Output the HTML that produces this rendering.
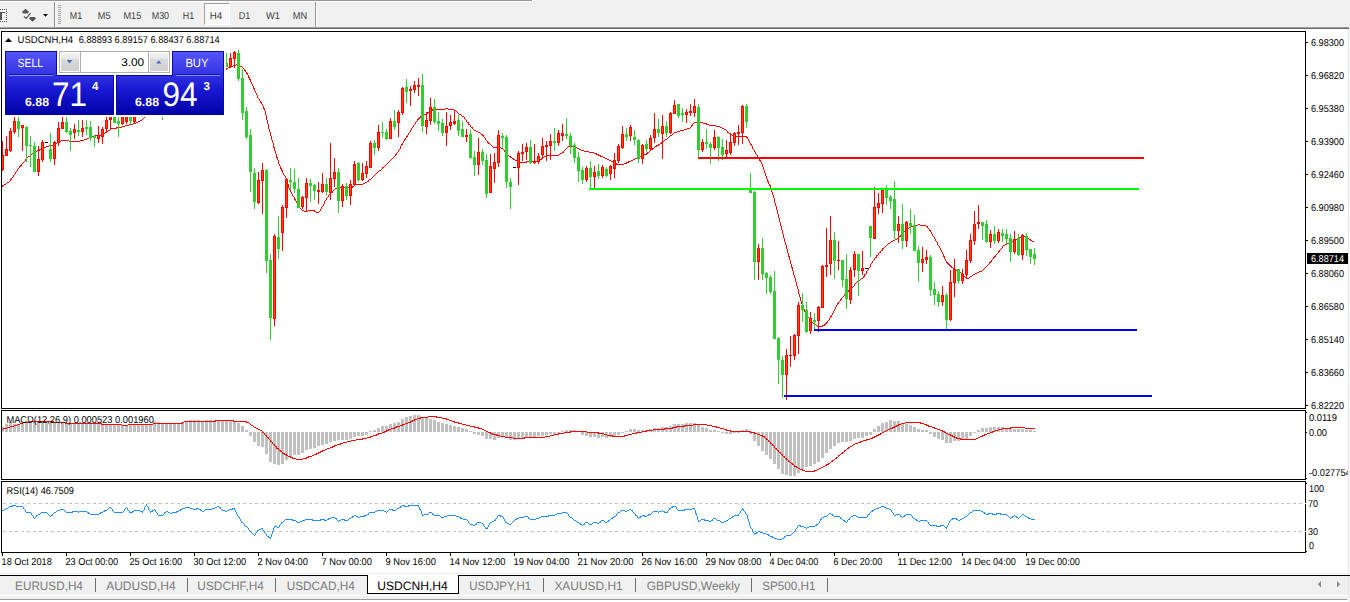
<!DOCTYPE html>
<html><head><meta charset="utf-8"><title>USDCNH,H4</title>
<style>
html,body{margin:0;padding:0}
body{width:1350px;height:602px;position:relative;overflow:hidden;background:#fff;font-family:"Liberation Sans",sans-serif;}
.abs{position:absolute}
#toolbar{left:0;top:0;width:1350px;height:29px;background:#f0f0f0}
#tabs{left:0;top:576px;width:1350px;height:20px;background:#f0f0f0}
#tabs .sep{position:absolute;top:2px;width:1px;height:14px;background:#6e6e6e}
svg text{font-family:"Liberation Sans",sans-serif;text-rendering:geometricPrecision}
</style></head><body>

<div id="toolbar" class="abs">
<div class="abs" style="left:0;top:0;width:532px;height:1px;background:#969696"></div>
<div class="abs" style="left:0;top:1px;width:533px;height:1px;background:#fff"></div><div class="abs" style="left:532px;top:0;width:1px;height:1px;background:#fff"></div>
<div class="abs" style="left:0;top:27px;width:1349px;height:1px;background:#a0a0a0"></div>
<div class="abs" style="left:0;top:28px;width:1349px;height:1px;background:#696969"></div>
<svg class="abs" style="left:0;top:0" width="64" height="27" shape-rendering="crispEdges">
<rect x="0" y="12" width="5" height="1" fill="#555"/><rect x="0" y="12" width="2" height="8" fill="#555"/>
<rect x="0" y="9" width="1" height="1" fill="#555"/><rect x="0" y="21" width="1" height="1" fill="#555"/>
<rect x="2" y="9" width="1" height="1" fill="#555"/><rect x="2" y="21" width="1" height="1" fill="#555"/>
<rect x="4" y="9" width="1" height="1" fill="#555"/><rect x="4" y="21" width="1" height="1" fill="#555"/>
<rect x="6" y="9" width="1" height="1" fill="#555"/><rect x="6" y="21" width="1" height="1" fill="#555"/>
<rect x="6" y="9" width="1" height="1" fill="#555"/>
<rect x="6" y="11" width="1" height="1" fill="#555"/>
<rect x="6" y="13" width="1" height="1" fill="#555"/>
<rect x="6" y="15" width="1" height="1" fill="#555"/>
<rect x="6" y="17" width="1" height="1" fill="#555"/>
<rect x="6" y="19" width="1" height="1" fill="#555"/>
<rect x="6" y="21" width="1" height="1" fill="#555"/>
<g shape-rendering="auto" fill="#555"><path d="M25.5 8.8 L29.2 12 L27.5 13.5 L23.5 13.5 L21.8 12 Z"/><path d="M32.5 21.8 L36.2 18.2 L34.5 17 L30.5 17 L28.8 18.2 Z"/><path d="M24 16.5 L26.2 18.4 L30.6 13.2" fill="none" stroke="#555" stroke-width="1.2"/></g>
<path d="M43 14 H48 L45.5 16.8 Z" fill="#000" shape-rendering="auto"/>
<rect x="54" y="2" width="1" height="25" fill="#8c8c8c"/><rect x="55" y="2" width="1" height="25" fill="#fafafa"/>
<rect x="58" y="5" width="3" height="1" fill="#a8a8a8"/>
<rect x="58" y="7" width="3" height="1" fill="#a8a8a8"/>
<rect x="58" y="9" width="3" height="1" fill="#a8a8a8"/>
<rect x="58" y="11" width="3" height="1" fill="#a8a8a8"/>
<rect x="58" y="13" width="3" height="1" fill="#a8a8a8"/>
<rect x="58" y="15" width="3" height="1" fill="#a8a8a8"/>
<rect x="58" y="17" width="3" height="1" fill="#a8a8a8"/>
<rect x="58" y="19" width="3" height="1" fill="#a8a8a8"/>
<rect x="58" y="21" width="3" height="1" fill="#a8a8a8"/>
<rect x="58" y="23" width="3" height="1" fill="#a8a8a8"/>
</svg>
<div class="abs" style="left:204px;top:3px;width:26px;height:22px;background:#f8f8f8;border-left:1px solid #a0a0a0;border-top:1px solid #a0a0a0;border-right:1px solid #fff;border-bottom:1px solid #fff;box-sizing:border-box"></div>
<svg class="abs" style="left:0;top:0" width="330" height="27">
<text x="69.8" y="19" font-size="10" fill="#3a3a3a" textLength="12.4" lengthAdjust="spacingAndGlyphs">M1</text>
<text x="97.8" y="19" font-size="10" fill="#3a3a3a" textLength="12.7" lengthAdjust="spacingAndGlyphs">M5</text>
<text x="123.5" y="19" font-size="10" fill="#3a3a3a" textLength="17.8" lengthAdjust="spacingAndGlyphs">M15</text>
<text x="151.7" y="19" font-size="10" fill="#3a3a3a" textLength="17.4" lengthAdjust="spacingAndGlyphs">M30</text>
<text x="182.8" y="19" font-size="10" fill="#3a3a3a" textLength="11.4" lengthAdjust="spacingAndGlyphs">H1</text>
<text x="209.8" y="19" font-size="10" fill="#3a3a3a" textLength="12.4" lengthAdjust="spacingAndGlyphs">H4</text>
<text x="238.7" y="19" font-size="10" fill="#3a3a3a" textLength="11.5" lengthAdjust="spacingAndGlyphs">D1</text>
<text x="266.1" y="19" font-size="10" fill="#3a3a3a" textLength="13.9" lengthAdjust="spacingAndGlyphs">W1</text>
<text x="292.8" y="19" font-size="10" fill="#3a3a3a" textLength="14.4" lengthAdjust="spacingAndGlyphs">MN</text>
</svg>
<div class="abs" style="left:315px;top:2px;width:1px;height:25px;background:#979797"></div><div class="abs" style="left:316px;top:2px;width:1px;height:25px;background:#fafafa"></div>
<div class="abs" style="left:1349px;top:0;width:1px;height:29px;background:#f0f0f0"></div>
</div>
<svg class="abs" style="left:0;top:29px" width="1350" height="547" viewBox="0 29 1350 547" shape-rendering="crispEdges">
<rect x="0" y="29" width="1350" height="547" fill="#fff"/>
<rect x="1348" y="29" width="1" height="546" fill="#e3e3e3"/><rect x="0" y="573" width="1348" height="1" fill="#ececec"/>
<path fill="#ff0000" d="M2 185h1v2h-1zM3 185h1v1h-1zM4 184h1v1h-1zM5 184h1v1h-1zM6 183h1v1h-1zM7 182h1v1h-1zM8 182h1v1h-1zM9 181h1v1h-1zM10 179h1v2h-1zM11 178h1v2h-1zM12 177h1v1h-1zM13 175h1v2h-1zM14 174h1v1h-1zM15 172h1v2h-1zM16 171h1v1h-1zM17 169h1v2h-1zM18 168h1v1h-1zM19 166h1v2h-1zM20 165h1v2h-1zM21 164h1v2h-1zM22 163h1v1h-1zM23 162h1v1h-1zM24 161h1v1h-1zM25 159h1v2h-1zM26 158h1v1h-1zM27 157h1v1h-1zM28 156h1v1h-1zM29 156h1v1h-1zM30 155h1v1h-1zM31 154h1v1h-1zM32 153h1v1h-1zM33 153h1v1h-1zM34 152h1v1h-1zM35 151h1v1h-1zM36 151h1v1h-1zM37 150h1v1h-1zM38 150h1v1h-1zM39 149h1v2h-1zM40 149h1v1h-1zM41 149h1v1h-1zM42 148h1v1h-1zM43 147h1v1h-1zM44 147h1v1h-1zM45 147h1v1h-1zM46 146h1v1h-1zM47 146h1v1h-1zM48 146h1v1h-1zM49 145h1v1h-1zM50 145h1v1h-1zM51 145h1v1h-1zM52 145h1v1h-1zM53 144h1v1h-1zM54 144h1v1h-1zM55 143h1v1h-1zM56 143h1v1h-1zM57 142h1v1h-1zM58 141h1v2h-1zM59 141h1v1h-1zM60 141h1v1h-1zM61 140h1v1h-1zM62 140h1v1h-1zM63 140h1v1h-1zM64 140h1v1h-1zM65 140h1v1h-1zM66 140h1v1h-1zM67 140h1v1h-1zM68 140h1v1h-1zM69 141h1v1h-1zM70 141h1v1h-1zM71 141h1v1h-1zM72 141h1v1h-1zM73 141h1v1h-1zM74 141h1v1h-1zM75 141h1v1h-1zM76 141h1v1h-1zM77 141h1v1h-1zM78 141h1v1h-1zM79 141h1v1h-1zM80 140h1v1h-1zM81 140h1v1h-1zM82 140h1v1h-1zM83 140h1v1h-1zM84 139h1v1h-1zM85 139h1v1h-1zM86 139h1v1h-1zM87 138h1v1h-1zM88 138h1v1h-1zM89 137h1v1h-1zM90 137h1v1h-1zM91 136h1v1h-1zM92 136h1v1h-1zM93 136h1v1h-1zM94 136h1v1h-1zM95 135h1v2h-1zM96 135h1v1h-1zM97 135h1v1h-1zM98 135h1v1h-1zM99 135h1v1h-1zM100 135h1v1h-1zM101 134h1v1h-1zM102 134h1v1h-1zM103 133h1v2h-1zM104 133h1v1h-1zM105 132h1v1h-1zM106 131h1v2h-1zM107 131h1v1h-1zM108 130h1v1h-1zM109 130h1v1h-1zM110 129h1v1h-1zM111 128h1v1h-1zM112 128h1v1h-1zM113 128h1v1h-1zM114 128h1v1h-1zM115 128h1v1h-1zM116 127h1v2h-1zM117 127h1v1h-1zM118 127h1v1h-1zM119 127h1v1h-1zM120 127h1v1h-1zM121 127h1v1h-1zM122 126h1v1h-1zM123 126h1v1h-1zM124 126h1v1h-1zM125 125h1v1h-1zM126 125h1v1h-1zM127 125h1v1h-1zM128 125h1v1h-1zM129 124h1v1h-1zM130 124h1v1h-1zM131 124h1v1h-1zM132 124h1v1h-1zM133 123h1v1h-1zM134 123h1v1h-1zM135 123h1v1h-1zM136 122h1v1h-1zM137 122h1v1h-1zM138 121h1v1h-1zM139 121h1v1h-1zM140 120h1v1h-1zM141 120h1v1h-1zM142 119h1v1h-1zM143 118h1v1h-1zM144 117h1v1h-1zM145 116h1v1h-1zM146 115h1v1h-1zM147 114h1v1h-1zM148 113h1v1h-1zM149 112h1v1h-1zM150 112h1v1h-1z"/>
<path fill="#ff0000" d="M224 69h1v2h-1zM225 69h1v1h-1zM226 68h1v2h-1zM227 68h1v1h-1zM228 67h1v1h-1zM229 67h1v1h-1zM230 67h1v1h-1zM231 66h1v1h-1zM232 66h1v1h-1zM233 65h1v1h-1zM234 65h1v1h-1zM235 65h1v1h-1zM236 64h1v1h-1zM237 64h1v1h-1zM238 65h1v1h-1zM239 65h1v1h-1zM240 66h1v1h-1zM241 66h1v1h-1zM242 67h1v1h-1zM243 68h1v1h-1zM244 69h1v2h-1zM245 70h1v2h-1zM246 72h1v2h-1zM247 73h1v2h-1zM248 75h1v3h-1zM249 77h1v3h-1zM250 79h1v3h-1zM251 82h1v2h-1zM252 84h1v2h-1zM253 86h1v3h-1zM254 88h1v3h-1zM255 91h1v2h-1zM256 93h1v2h-1zM257 95h1v3h-1zM258 98h1v1h-1zM259 99h1v2h-1zM260 101h1v2h-1zM261 102h1v2h-1zM262 104h1v2h-1zM263 106h1v3h-1zM264 108h1v3h-1zM265 111h1v4h-1zM266 115h1v5h-1zM267 120h1v4h-1zM268 124h1v5h-1zM269 129h1v3h-1zM270 132h1v4h-1zM271 136h1v4h-1zM272 140h1v3h-1zM273 143h1v5h-1zM274 147h1v4h-1zM275 151h1v3h-1zM276 154h1v4h-1zM277 157h1v3h-1zM278 160h1v4h-1zM279 164h1v2h-1zM280 166h1v3h-1zM281 168h1v3h-1zM282 170h1v3h-1zM283 173h1v2h-1zM284 175h1v1h-1zM285 176h1v2h-1zM286 178h1v4h-1zM287 181h1v4h-1zM288 184h1v4h-1zM289 188h1v2h-1zM290 190h1v2h-1zM291 192h1v2h-1zM292 194h1v2h-1zM293 196h1v1h-1zM294 197h1v3h-1zM295 199h1v2h-1zM296 201h1v2h-1zM297 203h1v1h-1zM298 204h1v2h-1zM299 206h1v2h-1zM300 208h1v1h-1zM301 209h1v1h-1zM302 210h1v1h-1zM303 210h1v1h-1zM304 211h1v1h-1zM305 211h1v1h-1zM306 211h1v1h-1zM307 211h1v1h-1zM308 210h1v1h-1zM309 210h1v1h-1zM310 210h1v1h-1zM311 210h1v1h-1zM312 210h1v1h-1zM313 210h1v1h-1zM314 210h1v2h-1zM315 211h1v1h-1zM316 212h1v1h-1zM317 212h1v1h-1zM318 212h1v1h-1zM319 211h1v1h-1zM320 209h1v2h-1zM321 207h1v2h-1zM322 206h1v1h-1zM323 204h1v2h-1zM324 201h1v3h-1zM325 200h1v1h-1zM326 198h1v2h-1zM327 197h1v1h-1zM328 195h1v2h-1zM329 194h1v1h-1zM330 193h1v1h-1zM331 192h1v1h-1zM332 191h1v2h-1zM333 190h1v1h-1zM334 189h1v1h-1zM335 188h1v1h-1zM336 188h1v1h-1zM337 187h1v1h-1zM338 187h1v1h-1zM339 187h1v1h-1zM340 187h1v1h-1zM341 187h1v1h-1zM342 187h1v1h-1zM343 187h1v1h-1zM344 187h1v1h-1zM345 187h1v1h-1zM346 187h1v1h-1zM347 187h1v1h-1zM348 187h1v1h-1zM349 187h1v1h-1zM350 187h1v1h-1zM351 187h1v1h-1zM352 186h1v2h-1zM353 186h1v1h-1zM354 185h1v1h-1zM355 184h1v1h-1zM356 184h1v1h-1zM357 184h1v1h-1zM358 184h1v1h-1zM359 184h1v1h-1zM360 184h1v1h-1zM361 184h1v1h-1zM362 184h1v1h-1zM363 183h1v1h-1zM364 183h1v1h-1zM365 182h1v1h-1zM366 182h1v1h-1zM367 181h1v1h-1zM368 180h1v2h-1zM369 179h1v1h-1zM370 179h1v1h-1zM371 178h1v1h-1zM372 177h1v1h-1zM373 176h1v1h-1zM374 175h1v1h-1zM375 174h1v1h-1zM376 173h1v1h-1zM377 172h1v1h-1zM378 171h1v1h-1zM379 170h1v1h-1zM380 170h1v1h-1zM381 169h1v1h-1zM382 167h1v2h-1zM383 167h1v1h-1zM384 166h1v1h-1zM385 165h1v1h-1zM386 164h1v1h-1zM387 163h1v1h-1zM388 162h1v1h-1zM389 161h1v1h-1zM390 160h1v1h-1zM391 159h1v1h-1zM392 158h1v1h-1zM393 157h1v1h-1zM394 156h1v1h-1zM395 154h1v2h-1zM396 153h1v2h-1zM397 152h1v1h-1zM398 150h1v2h-1zM399 149h1v1h-1zM400 146h1v3h-1zM401 144h1v2h-1zM402 143h1v2h-1zM403 141h1v2h-1zM404 139h1v2h-1zM405 138h1v2h-1zM406 136h1v2h-1zM407 135h1v2h-1zM408 133h1v2h-1zM409 132h1v1h-1zM410 130h1v2h-1zM411 128h1v2h-1zM412 127h1v1h-1zM413 125h1v2h-1zM414 124h1v1h-1zM415 122h1v2h-1zM416 121h1v1h-1zM417 119h1v2h-1zM418 118h1v2h-1zM419 117h1v2h-1zM420 116h1v2h-1zM421 115h1v2h-1zM422 115h1v1h-1zM423 114h1v2h-1zM424 114h1v1h-1zM425 114h1v1h-1zM426 113h1v1h-1zM427 112h1v2h-1zM428 112h1v1h-1zM429 111h1v1h-1zM430 110h1v2h-1zM431 110h1v1h-1zM432 109h1v2h-1zM433 109h1v1h-1zM434 109h1v1h-1zM435 109h1v1h-1zM436 109h1v1h-1zM437 109h1v1h-1zM438 109h1v1h-1zM439 109h1v1h-1zM440 109h1v1h-1zM441 109h1v1h-1zM442 109h1v1h-1zM443 109h1v1h-1zM444 109h1v1h-1zM445 108h1v1h-1zM446 108h1v1h-1zM447 108h1v1h-1zM448 109h1v1h-1zM449 109h1v1h-1zM450 109h1v1h-1zM451 109h1v1h-1zM452 109h1v1h-1zM453 109h1v1h-1zM454 110h1v1h-1zM455 110h1v1h-1zM456 111h1v1h-1zM457 112h1v1h-1zM458 113h1v1h-1zM459 114h1v1h-1zM460 114h1v1h-1zM461 115h1v1h-1zM462 116h1v1h-1zM463 116h1v1h-1zM464 117h1v2h-1zM465 119h1v1h-1zM466 120h1v2h-1zM467 122h1v1h-1zM468 122h1v3h-1zM469 124h1v1h-1zM470 125h1v2h-1zM471 127h1v1h-1zM472 127h1v2h-1zM473 129h1v1h-1zM474 130h1v1h-1zM475 130h1v1h-1zM476 131h1v1h-1zM477 131h1v1h-1zM478 132h1v1h-1zM479 132h1v1h-1zM480 133h1v1h-1zM481 134h1v1h-1zM482 134h1v2h-1zM483 135h1v2h-1zM484 137h1v1h-1zM485 138h1v2h-1zM486 140h1v1h-1zM487 141h1v2h-1zM488 142h1v2h-1zM489 143h1v1h-1zM490 144h1v1h-1zM491 145h1v1h-1zM492 146h1v1h-1zM493 147h1v1h-1zM494 147h1v1h-1zM495 147h1v1h-1zM496 147h1v1h-1zM497 147h1v1h-1zM498 147h1v1h-1zM499 147h1v1h-1zM500 147h1v1h-1zM501 148h1v1h-1zM502 148h1v1h-1zM503 149h1v1h-1zM504 150h1v2h-1zM505 151h1v2h-1zM506 153h1v1h-1zM507 154h1v1h-1zM508 155h1v1h-1zM509 156h1v1h-1zM510 156h1v2h-1zM511 157h1v1h-1zM512 158h1v1h-1zM513 158h1v2h-1zM514 159h1v1h-1zM515 160h1v1h-1zM516 160h1v1h-1zM517 161h1v1h-1zM518 161h1v1h-1zM519 162h1v1h-1zM520 162h1v1h-1zM521 162h1v1h-1zM522 162h1v1h-1zM523 162h1v1h-1zM524 162h1v1h-1zM525 162h1v1h-1zM526 161h1v2h-1zM527 161h1v1h-1zM528 161h1v1h-1zM529 161h1v1h-1zM530 161h1v1h-1zM531 161h1v1h-1zM532 161h1v1h-1zM533 161h1v1h-1zM534 161h1v1h-1zM535 161h1v1h-1zM536 161h1v1h-1zM537 160h1v1h-1zM538 160h1v1h-1zM539 160h1v1h-1zM540 159h1v1h-1zM541 158h1v2h-1zM542 157h1v2h-1zM543 157h1v1h-1zM544 156h1v1h-1zM545 156h1v1h-1zM546 155h1v2h-1zM547 155h1v1h-1zM548 155h1v1h-1zM549 155h1v1h-1zM550 155h1v1h-1zM551 155h1v1h-1zM552 155h1v1h-1zM553 155h1v1h-1zM554 155h1v1h-1zM555 155h1v1h-1zM556 155h1v1h-1zM557 155h1v1h-1zM558 155h1v1h-1zM559 154h1v1h-1zM560 153h1v1h-1zM561 153h1v1h-1zM562 152h1v1h-1zM563 151h1v2h-1zM564 150h1v1h-1zM565 149h1v1h-1zM566 148h1v1h-1zM567 147h1v1h-1zM568 146h1v1h-1zM569 146h1v1h-1zM570 146h1v1h-1zM571 146h1v1h-1zM572 146h1v1h-1zM573 146h1v1h-1zM574 147h1v1h-1zM575 147h1v1h-1zM576 147h1v1h-1zM577 148h1v1h-1zM578 148h1v1h-1zM579 149h1v1h-1zM580 149h1v1h-1zM581 150h1v1h-1zM582 150h1v1h-1zM583 150h1v1h-1zM584 151h1v1h-1zM585 151h1v1h-1zM586 151h1v1h-1zM587 151h1v1h-1zM588 151h1v1h-1zM589 152h1v1h-1zM590 152h1v1h-1zM591 152h1v1h-1zM592 152h1v1h-1zM593 152h1v1h-1zM594 153h1v1h-1zM595 153h1v1h-1zM596 153h1v2h-1zM597 154h1v1h-1zM598 154h1v2h-1zM599 155h1v1h-1zM600 155h1v2h-1zM601 156h1v1h-1zM602 156h1v1h-1zM603 157h1v1h-1zM604 157h1v1h-1zM605 158h1v1h-1zM606 158h1v1h-1zM607 159h1v1h-1zM608 159h1v1h-1zM609 160h1v1h-1zM610 160h1v1h-1zM611 161h1v1h-1zM612 161h1v1h-1zM613 162h1v1h-1zM614 162h1v1h-1zM615 163h1v1h-1zM616 163h1v2h-1zM617 164h1v1h-1zM618 164h1v1h-1zM619 164h1v1h-1zM620 164h1v1h-1zM621 164h1v1h-1zM622 164h1v1h-1zM623 164h1v1h-1zM624 163h1v1h-1zM625 163h1v1h-1zM626 162h1v2h-1zM627 162h1v1h-1zM628 161h1v2h-1zM629 161h1v1h-1zM630 161h1v1h-1zM631 160h1v1h-1zM632 160h1v1h-1zM633 159h1v1h-1zM634 159h1v1h-1zM635 158h1v1h-1zM636 158h1v1h-1zM637 157h1v1h-1zM638 157h1v1h-1zM639 157h1v1h-1zM640 156h1v1h-1zM641 156h1v1h-1zM642 155h1v1h-1zM643 155h1v1h-1zM644 154h1v1h-1zM645 154h1v1h-1zM646 153h1v2h-1zM647 152h1v2h-1zM648 152h1v1h-1zM649 151h1v1h-1zM650 150h1v1h-1zM651 149h1v1h-1zM652 148h1v2h-1zM653 148h1v1h-1zM654 147h1v1h-1zM655 146h1v1h-1zM656 145h1v2h-1zM657 145h1v1h-1zM658 144h1v2h-1zM659 144h1v1h-1zM660 143h1v1h-1zM661 142h1v2h-1zM662 142h1v1h-1zM663 141h1v1h-1zM664 140h1v1h-1zM665 139h1v1h-1zM666 139h1v1h-1zM667 138h1v1h-1zM668 137h1v1h-1zM669 136h1v1h-1zM670 135h1v1h-1zM671 135h1v1h-1zM672 134h1v1h-1zM673 133h1v1h-1zM674 132h1v1h-1zM675 132h1v1h-1zM676 132h1v1h-1zM677 131h1v1h-1zM678 131h1v1h-1zM679 131h1v1h-1zM680 130h1v1h-1zM681 130h1v1h-1zM682 130h1v1h-1zM683 130h1v1h-1zM684 129h1v1h-1zM685 129h1v1h-1zM686 129h1v1h-1zM687 128h1v1h-1zM688 128h1v1h-1zM689 128h1v1h-1zM690 127h1v1h-1zM691 125h1v2h-1zM692 124h1v2h-1zM693 123h1v1h-1zM694 122h1v1h-1zM695 122h1v1h-1zM696 122h1v1h-1zM697 122h1v1h-1zM698 122h1v1h-1zM699 122h1v1h-1zM700 122h1v1h-1zM701 122h1v1h-1zM702 122h1v1h-1zM703 123h1v1h-1zM704 123h1v1h-1zM705 123h1v1h-1zM706 123h1v2h-1zM707 124h1v1h-1zM708 124h1v1h-1zM709 125h1v1h-1zM710 125h1v1h-1zM711 125h1v1h-1zM712 125h1v1h-1zM713 125h1v1h-1zM714 125h1v1h-1zM715 125h1v1h-1zM716 126h1v1h-1zM717 126h1v1h-1zM718 126h1v1h-1zM719 126h1v1h-1zM720 127h1v1h-1zM721 127h1v1h-1zM722 128h1v1h-1zM723 128h1v1h-1zM724 129h1v1h-1zM725 129h1v1h-1zM726 130h1v1h-1zM727 131h1v2h-1zM728 132h1v1h-1zM729 133h1v1h-1zM730 133h1v1h-1zM731 134h1v1h-1zM732 135h1v1h-1zM733 135h1v1h-1zM734 135h1v1h-1zM735 136h1v1h-1zM736 136h1v1h-1zM737 136h1v1h-1zM738 136h1v1h-1zM739 136h1v1h-1zM740 136h1v1h-1zM741 136h1v1h-1zM742 136h1v1h-1zM743 136h1v1h-1zM744 136h1v1h-1zM745 136h1v1h-1zM746 136h1v2h-1zM747 137h1v2h-1zM748 139h1v2h-1zM749 141h1v2h-1zM750 143h1v2h-1zM751 144h1v2h-1zM752 146h1v3h-1zM753 149h1v1h-1zM754 150h1v2h-1zM755 152h1v2h-1zM756 154h1v1h-1zM757 155h1v2h-1zM758 157h1v2h-1zM759 159h1v2h-1zM760 160h1v2h-1zM761 162h1v2h-1zM762 164h1v3h-1zM763 167h1v3h-1zM764 170h1v3h-1zM765 173h1v3h-1zM766 176h1v3h-1zM767 179h1v3h-1zM768 181h1v3h-1zM769 184h1v2h-1zM770 185h1v4h-1zM771 188h1v4h-1zM772 192h1v3h-1zM773 195h1v3h-1zM774 198h1v5h-1zM775 203h1v3h-1zM776 206h1v4h-1zM777 210h1v4h-1zM778 214h1v4h-1zM779 218h1v4h-1zM780 222h1v4h-1zM781 226h1v4h-1zM782 230h1v4h-1zM783 234h1v4h-1zM784 238h1v4h-1zM785 242h1v3h-1zM786 245h1v4h-1zM787 249h1v4h-1zM788 253h1v4h-1zM789 256h1v4h-1zM790 260h1v4h-1zM791 264h1v4h-1zM792 267h1v4h-1zM793 271h1v4h-1zM794 275h1v3h-1zM795 278h1v4h-1zM796 282h1v4h-1zM797 286h1v3h-1zM798 289h1v5h-1zM799 294h1v3h-1zM800 297h1v4h-1zM801 301h1v3h-1zM802 304h1v3h-1zM803 307h1v2h-1zM804 309h1v3h-1zM805 312h1v2h-1zM806 313h1v2h-1zM807 315h1v2h-1zM808 317h1v1h-1zM809 318h1v2h-1zM810 319h1v2h-1zM811 321h1v1h-1zM812 322h1v1h-1zM813 323h1v1h-1zM814 323h1v1h-1zM815 324h1v1h-1zM816 325h1v1h-1zM817 326h1v1h-1zM818 326h1v1h-1zM819 326h1v1h-1zM820 326h1v1h-1zM821 326h1v1h-1zM822 325h1v2h-1zM823 325h1v1h-1zM824 324h1v2h-1zM825 323h1v2h-1zM826 322h1v2h-1zM827 321h1v2h-1zM828 320h1v1h-1zM829 318h1v2h-1zM830 316h1v2h-1zM831 315h1v2h-1zM832 313h1v2h-1zM833 311h1v2h-1zM834 309h1v2h-1zM835 307h1v2h-1zM836 305h1v2h-1zM837 303h1v2h-1zM838 302h1v2h-1zM839 301h1v1h-1zM840 299h1v2h-1zM841 298h1v2h-1zM842 297h1v1h-1zM843 296h1v1h-1zM844 294h1v2h-1zM845 293h1v2h-1zM846 292h1v2h-1zM847 291h1v2h-1zM848 290h1v2h-1zM849 289h1v2h-1zM850 288h1v2h-1zM851 288h1v1h-1zM852 287h1v1h-1zM853 286h1v1h-1zM854 284h1v2h-1zM855 283h1v1h-1zM856 282h1v1h-1zM857 281h1v1h-1zM858 280h1v1h-1zM859 280h1v1h-1zM860 279h1v1h-1zM861 278h1v1h-1zM862 278h1v1h-1zM863 276h1v2h-1zM864 274h1v3h-1zM865 274h1v1h-1zM866 271h1v3h-1zM867 270h1v1h-1zM868 268h1v2h-1zM869 267h1v1h-1zM870 264h1v3h-1zM871 263h1v1h-1zM872 261h1v2h-1zM873 260h1v1h-1zM874 258h1v2h-1zM875 257h1v1h-1zM876 255h1v3h-1zM877 255h1v1h-1zM878 253h1v2h-1zM879 252h1v1h-1zM880 251h1v2h-1zM881 250h1v1h-1zM882 248h1v3h-1zM883 248h1v1h-1zM884 247h1v1h-1zM885 246h1v1h-1zM886 245h1v1h-1zM887 244h1v1h-1zM888 243h1v1h-1zM889 243h1v1h-1zM890 242h1v1h-1zM891 241h1v1h-1zM892 241h1v1h-1zM893 240h1v1h-1zM894 240h1v1h-1zM895 239h1v1h-1zM896 239h1v1h-1zM897 238h1v1h-1zM898 237h1v1h-1zM899 236h1v1h-1zM900 235h1v2h-1zM901 234h1v2h-1zM902 232h1v2h-1zM903 231h1v1h-1zM904 231h1v1h-1zM905 230h1v1h-1zM906 229h1v1h-1zM907 228h1v2h-1zM908 228h1v1h-1zM909 227h1v1h-1zM910 227h1v1h-1zM911 226h1v1h-1zM912 226h1v1h-1zM913 225h1v1h-1zM914 225h1v1h-1zM915 225h1v1h-1zM916 225h1v1h-1zM917 225h1v1h-1zM918 224h1v1h-1zM919 224h1v1h-1zM920 225h1v1h-1zM921 225h1v1h-1zM922 225h1v1h-1zM923 225h1v1h-1zM924 225h1v1h-1zM925 225h1v1h-1zM926 226h1v1h-1zM927 226h1v2h-1zM928 228h1v1h-1zM929 229h1v2h-1zM930 230h1v2h-1zM931 232h1v2h-1zM932 234h1v2h-1zM933 236h1v1h-1zM934 237h1v2h-1zM935 239h1v2h-1zM936 241h1v1h-1zM937 242h1v3h-1zM938 245h1v1h-1zM939 246h1v2h-1zM940 248h1v2h-1zM941 250h1v2h-1zM942 252h1v2h-1zM943 254h1v3h-1zM944 256h1v3h-1zM945 259h1v2h-1zM946 261h1v2h-1zM947 262h1v2h-1zM948 263h1v2h-1zM949 264h1v2h-1zM950 265h1v2h-1zM951 266h1v2h-1zM952 267h1v1h-1zM953 268h1v1h-1zM954 268h1v2h-1zM955 269h1v1h-1zM956 270h1v1h-1zM957 270h1v1h-1zM958 271h1v1h-1zM959 271h1v1h-1zM960 272h1v1h-1zM961 273h1v1h-1zM962 274h1v1h-1zM963 275h1v1h-1zM964 276h1v1h-1zM965 277h1v1h-1zM966 277h1v2h-1zM967 278h1v1h-1zM968 278h1v1h-1zM969 277h1v1h-1zM970 276h1v1h-1zM971 276h1v1h-1zM972 275h1v1h-1zM973 274h1v1h-1zM974 274h1v1h-1zM975 273h1v1h-1zM976 273h1v1h-1zM977 272h1v1h-1zM978 272h1v1h-1zM979 271h1v1h-1zM980 271h1v1h-1zM981 271h1v1h-1zM982 270h1v1h-1zM983 269h1v1h-1zM984 268h1v1h-1zM985 267h1v1h-1zM986 266h1v1h-1zM987 265h1v1h-1zM988 264h1v1h-1zM989 262h1v2h-1zM990 261h1v2h-1zM991 260h1v2h-1zM992 259h1v1h-1zM993 257h1v2h-1zM994 256h1v2h-1zM995 255h1v2h-1zM996 254h1v1h-1zM997 253h1v1h-1zM998 251h1v2h-1zM999 250h1v2h-1zM1000 249h1v1h-1zM1001 248h1v1h-1zM1002 246h1v2h-1zM1003 245h1v1h-1zM1004 245h1v1h-1zM1005 244h1v1h-1zM1006 244h1v1h-1zM1007 243h1v1h-1zM1008 243h1v1h-1zM1009 242h1v1h-1zM1010 242h1v1h-1zM1011 241h1v2h-1zM1012 241h1v1h-1zM1013 240h1v2h-1zM1014 240h1v1h-1zM1015 239h1v2h-1zM1016 239h1v1h-1zM1017 238h1v2h-1zM1018 238h1v1h-1zM1019 237h1v1h-1zM1020 237h1v1h-1zM1021 236h1v2h-1zM1022 236h1v1h-1zM1023 236h1v1h-1zM1024 236h1v1h-1zM1025 236h1v1h-1zM1026 236h1v1h-1zM1027 237h1v1h-1zM1028 238h1v1h-1zM1029 239h1v1h-1zM1030 239h1v2h-1zM1031 240h1v1h-1zM1032 241h1v1h-1zM1033 241h1v1h-1z"/>
<rect x="2" y="141" width="1" height="30" fill="#ff0000"/>
<rect x="1" y="155" width="3" height="15" fill="#ff0000"/>
<rect x="2" y="156" width="1" height="13" fill="#ff4500"/>
<rect x="6" y="136" width="1" height="20" fill="#ff0000"/>
<rect x="5" y="149" width="3" height="7" fill="#ff0000"/>
<rect x="6" y="150" width="1" height="5" fill="#ff4500"/>
<rect x="10" y="128" width="1" height="24" fill="#ff0000"/>
<rect x="9" y="131" width="3" height="20" fill="#ff0000"/>
<rect x="10" y="132" width="1" height="18" fill="#ff4500"/>
<rect x="14" y="115" width="1" height="19" fill="#ff0000"/>
<rect x="13" y="121" width="3" height="11" fill="#ff0000"/>
<rect x="14" y="122" width="1" height="9" fill="#ff4500"/>
<rect x="18" y="115" width="1" height="22" fill="#32cd32"/>
<rect x="17" y="121" width="3" height="8" fill="#32cd32"/>
<rect x="22" y="125" width="1" height="26" fill="#ff0000"/>
<rect x="21" y="125" width="3" height="3" fill="#ff0000"/>
<rect x="22" y="126" width="1" height="1" fill="#ff4500"/>
<rect x="26" y="126" width="1" height="36" fill="#32cd32"/>
<rect x="25" y="127" width="3" height="19" fill="#32cd32"/>
<rect x="30" y="136" width="1" height="31" fill="#32cd32"/>
<rect x="29" y="145" width="3" height="1" fill="#32cd32"/>
<rect x="34" y="142" width="1" height="30" fill="#32cd32"/>
<rect x="33" y="146" width="3" height="26" fill="#32cd32"/>
<rect x="38" y="146" width="1" height="30" fill="#ff0000"/>
<rect x="37" y="159" width="3" height="13" fill="#ff0000"/>
<rect x="38" y="160" width="1" height="11" fill="#ff4500"/>
<rect x="42" y="140" width="1" height="22" fill="#ff0000"/>
<rect x="41" y="142" width="3" height="18" fill="#ff0000"/>
<rect x="42" y="143" width="1" height="16" fill="#ff4500"/>
<rect x="45" y="142" width="3" height="1" fill="#000"/>
<rect x="50" y="133" width="1" height="29" fill="#32cd32"/>
<rect x="49" y="149" width="3" height="10" fill="#32cd32"/>
<rect x="54" y="141" width="1" height="24" fill="#ff0000"/>
<rect x="53" y="142" width="3" height="17" fill="#ff0000"/>
<rect x="54" y="143" width="1" height="15" fill="#ff4500"/>
<rect x="58" y="122" width="1" height="24" fill="#ff0000"/>
<rect x="57" y="128" width="3" height="15" fill="#ff0000"/>
<rect x="58" y="129" width="1" height="13" fill="#ff4500"/>
<rect x="62" y="115" width="1" height="14" fill="#ff0000"/>
<rect x="61" y="122" width="3" height="7" fill="#ff0000"/>
<rect x="62" y="123" width="1" height="5" fill="#ff4500"/>
<rect x="66" y="115" width="1" height="18" fill="#32cd32"/>
<rect x="65" y="122" width="3" height="10" fill="#32cd32"/>
<rect x="70" y="128" width="1" height="23" fill="#32cd32"/>
<rect x="69" y="131" width="3" height="4" fill="#32cd32"/>
<rect x="74" y="124" width="1" height="15" fill="#ff0000"/>
<rect x="73" y="129" width="3" height="4" fill="#ff0000"/>
<rect x="74" y="130" width="1" height="2" fill="#ff4500"/>
<rect x="78" y="120" width="1" height="16" fill="#32cd32"/>
<rect x="77" y="130" width="3" height="2" fill="#32cd32"/>
<rect x="82" y="120" width="1" height="17" fill="#ff0000"/>
<rect x="81" y="128" width="3" height="4" fill="#ff0000"/>
<rect x="82" y="129" width="1" height="2" fill="#ff4500"/>
<rect x="86" y="120" width="1" height="15" fill="#32cd32"/>
<rect x="85" y="127" width="3" height="2" fill="#32cd32"/>
<rect x="90" y="121" width="1" height="20" fill="#32cd32"/>
<rect x="89" y="127" width="3" height="11" fill="#32cd32"/>
<rect x="94" y="135" width="1" height="12" fill="#32cd32"/>
<rect x="93" y="136" width="3" height="2" fill="#32cd32"/>
<rect x="98" y="126" width="1" height="17" fill="#ff0000"/>
<rect x="97" y="135" width="3" height="4" fill="#ff0000"/>
<rect x="98" y="136" width="1" height="2" fill="#ff4500"/>
<rect x="102" y="127" width="1" height="17" fill="#ff0000"/>
<rect x="101" y="129" width="3" height="8" fill="#ff0000"/>
<rect x="102" y="130" width="1" height="6" fill="#ff4500"/>
<rect x="106" y="115" width="1" height="16" fill="#ff0000"/>
<rect x="105" y="120" width="3" height="9" fill="#ff0000"/>
<rect x="106" y="121" width="1" height="7" fill="#ff4500"/>
<rect x="110" y="115" width="1" height="14" fill="#ff0000"/>
<rect x="109" y="115" width="3" height="5" fill="#ff0000"/>
<rect x="110" y="116" width="1" height="3" fill="#ff4500"/>
<rect x="114" y="115" width="1" height="8" fill="#32cd32"/>
<rect x="113" y="115" width="3" height="8" fill="#32cd32"/>
<rect x="118" y="115" width="1" height="22" fill="#32cd32"/>
<rect x="117" y="121" width="3" height="3" fill="#32cd32"/>
<rect x="122" y="115" width="1" height="10" fill="#ff0000"/>
<rect x="121" y="115" width="3" height="9" fill="#ff0000"/>
<rect x="122" y="116" width="1" height="7" fill="#ff4500"/>
<rect x="126" y="115" width="1" height="9" fill="#ff0000"/>
<rect x="125" y="115" width="3" height="7" fill="#ff0000"/>
<rect x="126" y="116" width="1" height="5" fill="#ff4500"/>
<rect x="130" y="115" width="1" height="9" fill="#32cd32"/>
<rect x="129" y="115" width="3" height="6" fill="#32cd32"/>
<rect x="134" y="115" width="1" height="9" fill="#ff0000"/>
<rect x="133" y="115" width="3" height="7" fill="#ff0000"/>
<rect x="134" y="116" width="1" height="5" fill="#ff4500"/>
<rect x="162" y="115" width="1" height="5" fill="#32cd32"/>
<rect x="226" y="53" width="1" height="14" fill="#32cd32"/>
<rect x="225" y="63" width="3" height="4" fill="#32cd32"/>
<rect x="230" y="53" width="1" height="15" fill="#ff0000"/>
<rect x="229" y="58" width="3" height="9" fill="#ff0000"/>
<rect x="230" y="59" width="1" height="7" fill="#ff4500"/>
<rect x="234" y="51" width="1" height="17" fill="#ff0000"/>
<rect x="233" y="52" width="3" height="7" fill="#ff0000"/>
<rect x="234" y="53" width="1" height="5" fill="#ff4500"/>
<rect x="238" y="50" width="1" height="31" fill="#32cd32"/>
<rect x="237" y="53" width="3" height="26" fill="#32cd32"/>
<rect x="242" y="69" width="1" height="51" fill="#32cd32"/>
<rect x="241" y="78" width="3" height="35" fill="#32cd32"/>
<rect x="246" y="107" width="1" height="32" fill="#32cd32"/>
<rect x="245" y="111" width="3" height="26" fill="#32cd32"/>
<rect x="250" y="129" width="1" height="63" fill="#32cd32"/>
<rect x="249" y="135" width="3" height="37" fill="#32cd32"/>
<rect x="254" y="168" width="1" height="41" fill="#32cd32"/>
<rect x="253" y="173" width="3" height="29" fill="#32cd32"/>
<rect x="258" y="172" width="1" height="32" fill="#ff0000"/>
<rect x="257" y="180" width="3" height="23" fill="#ff0000"/>
<rect x="258" y="181" width="1" height="21" fill="#ff4500"/>
<rect x="262" y="163" width="1" height="51" fill="#ff0000"/>
<rect x="261" y="170" width="3" height="11" fill="#ff0000"/>
<rect x="262" y="171" width="1" height="9" fill="#ff4500"/>
<rect x="266" y="169" width="1" height="104" fill="#32cd32"/>
<rect x="265" y="170" width="3" height="91" fill="#32cd32"/>
<rect x="270" y="254" width="1" height="86" fill="#32cd32"/>
<rect x="269" y="260" width="3" height="58" fill="#32cd32"/>
<rect x="274" y="234" width="1" height="92" fill="#ff0000"/>
<rect x="273" y="236" width="3" height="83" fill="#ff0000"/>
<rect x="274" y="237" width="1" height="81" fill="#ff4500"/>
<rect x="278" y="216" width="1" height="43" fill="#32cd32"/>
<rect x="277" y="237" width="3" height="12" fill="#32cd32"/>
<rect x="282" y="205" width="1" height="46" fill="#ff0000"/>
<rect x="281" y="207" width="3" height="26" fill="#ff0000"/>
<rect x="282" y="208" width="1" height="24" fill="#ff4500"/>
<rect x="286" y="178" width="1" height="40" fill="#ff0000"/>
<rect x="285" y="179" width="3" height="29" fill="#ff0000"/>
<rect x="286" y="180" width="1" height="27" fill="#ff4500"/>
<rect x="290" y="168" width="1" height="22" fill="#32cd32"/>
<rect x="289" y="180" width="3" height="2" fill="#32cd32"/>
<rect x="294" y="169" width="1" height="24" fill="#32cd32"/>
<rect x="293" y="182" width="3" height="7" fill="#32cd32"/>
<rect x="298" y="178" width="1" height="30" fill="#32cd32"/>
<rect x="297" y="189" width="3" height="19" fill="#32cd32"/>
<rect x="302" y="196" width="1" height="13" fill="#ff0000"/>
<rect x="301" y="197" width="3" height="10" fill="#ff0000"/>
<rect x="302" y="198" width="1" height="8" fill="#ff4500"/>
<rect x="306" y="178" width="1" height="34" fill="#ff0000"/>
<rect x="305" y="183" width="3" height="15" fill="#ff0000"/>
<rect x="306" y="184" width="1" height="13" fill="#ff4500"/>
<rect x="310" y="179" width="1" height="23" fill="#32cd32"/>
<rect x="309" y="183" width="3" height="3" fill="#32cd32"/>
<rect x="314" y="184" width="1" height="16" fill="#32cd32"/>
<rect x="313" y="185" width="3" height="6" fill="#32cd32"/>
<rect x="318" y="182" width="1" height="22" fill="#ff0000"/>
<rect x="317" y="190" width="3" height="2" fill="#ff0000"/>
<rect x="322" y="173" width="1" height="20" fill="#ff0000"/>
<rect x="321" y="184" width="3" height="8" fill="#ff0000"/>
<rect x="322" y="185" width="1" height="6" fill="#ff4500"/>
<rect x="326" y="178" width="1" height="17" fill="#32cd32"/>
<rect x="325" y="184" width="3" height="8" fill="#32cd32"/>
<rect x="330" y="143" width="1" height="57" fill="#ff0000"/>
<rect x="329" y="178" width="3" height="15" fill="#ff0000"/>
<rect x="330" y="179" width="1" height="13" fill="#ff4500"/>
<rect x="334" y="158" width="1" height="29" fill="#ff0000"/>
<rect x="333" y="172" width="3" height="7" fill="#ff0000"/>
<rect x="334" y="173" width="1" height="5" fill="#ff4500"/>
<rect x="338" y="168" width="1" height="45" fill="#32cd32"/>
<rect x="337" y="172" width="3" height="29" fill="#32cd32"/>
<rect x="342" y="184" width="1" height="23" fill="#ff0000"/>
<rect x="341" y="186" width="3" height="15" fill="#ff0000"/>
<rect x="342" y="187" width="1" height="13" fill="#ff4500"/>
<rect x="346" y="183" width="1" height="17" fill="#32cd32"/>
<rect x="345" y="186" width="3" height="10" fill="#32cd32"/>
<rect x="350" y="180" width="1" height="25" fill="#ff0000"/>
<rect x="349" y="184" width="3" height="12" fill="#ff0000"/>
<rect x="350" y="185" width="1" height="10" fill="#ff4500"/>
<rect x="354" y="161" width="1" height="25" fill="#ff0000"/>
<rect x="353" y="164" width="3" height="21" fill="#ff0000"/>
<rect x="354" y="165" width="1" height="19" fill="#ff4500"/>
<rect x="358" y="162" width="1" height="20" fill="#32cd32"/>
<rect x="357" y="163" width="3" height="17" fill="#32cd32"/>
<rect x="362" y="163" width="1" height="18" fill="#ff0000"/>
<rect x="361" y="173" width="3" height="7" fill="#ff0000"/>
<rect x="362" y="174" width="1" height="5" fill="#ff4500"/>
<rect x="366" y="161" width="1" height="17" fill="#ff0000"/>
<rect x="365" y="166" width="3" height="8" fill="#ff0000"/>
<rect x="366" y="167" width="1" height="6" fill="#ff4500"/>
<rect x="370" y="141" width="1" height="27" fill="#ff0000"/>
<rect x="369" y="143" width="3" height="25" fill="#ff0000"/>
<rect x="370" y="144" width="1" height="23" fill="#ff4500"/>
<rect x="374" y="140" width="1" height="15" fill="#32cd32"/>
<rect x="373" y="143" width="3" height="5" fill="#32cd32"/>
<rect x="378" y="125" width="1" height="26" fill="#ff0000"/>
<rect x="377" y="132" width="3" height="16" fill="#ff0000"/>
<rect x="378" y="133" width="1" height="14" fill="#ff4500"/>
<rect x="382" y="122" width="1" height="16" fill="#32cd32"/>
<rect x="381" y="132" width="3" height="1" fill="#32cd32"/>
<rect x="386" y="129" width="1" height="11" fill="#32cd32"/>
<rect x="385" y="132" width="3" height="7" fill="#32cd32"/>
<rect x="390" y="118" width="1" height="21" fill="#ff0000"/>
<rect x="389" y="121" width="3" height="18" fill="#ff0000"/>
<rect x="390" y="122" width="1" height="16" fill="#ff4500"/>
<rect x="394" y="110" width="1" height="20" fill="#32cd32"/>
<rect x="393" y="121" width="3" height="6" fill="#32cd32"/>
<rect x="398" y="110" width="1" height="27" fill="#ff0000"/>
<rect x="397" y="112" width="3" height="11" fill="#ff0000"/>
<rect x="398" y="113" width="1" height="9" fill="#ff4500"/>
<rect x="402" y="87" width="1" height="28" fill="#ff0000"/>
<rect x="401" y="88" width="3" height="25" fill="#ff0000"/>
<rect x="402" y="89" width="1" height="23" fill="#ff4500"/>
<rect x="406" y="79" width="1" height="24" fill="#32cd32"/>
<rect x="405" y="87" width="3" height="5" fill="#32cd32"/>
<rect x="410" y="86" width="1" height="20" fill="#ff0000"/>
<rect x="409" y="89" width="3" height="2" fill="#ff0000"/>
<rect x="414" y="81" width="1" height="12" fill="#ff0000"/>
<rect x="413" y="85" width="3" height="5" fill="#ff0000"/>
<rect x="414" y="86" width="1" height="3" fill="#ff4500"/>
<rect x="418" y="78" width="1" height="18" fill="#ff0000"/>
<rect x="417" y="85" width="3" height="2" fill="#ff0000"/>
<rect x="422" y="74" width="1" height="58" fill="#32cd32"/>
<rect x="421" y="85" width="3" height="41" fill="#32cd32"/>
<rect x="426" y="112" width="1" height="22" fill="#ff0000"/>
<rect x="425" y="120" width="3" height="7" fill="#ff0000"/>
<rect x="426" y="121" width="1" height="5" fill="#ff4500"/>
<rect x="430" y="98" width="1" height="27" fill="#ff0000"/>
<rect x="429" y="107" width="3" height="14" fill="#ff0000"/>
<rect x="430" y="108" width="1" height="12" fill="#ff4500"/>
<rect x="434" y="99" width="1" height="25" fill="#32cd32"/>
<rect x="433" y="107" width="3" height="15" fill="#32cd32"/>
<rect x="438" y="112" width="1" height="19" fill="#32cd32"/>
<rect x="437" y="121" width="3" height="3" fill="#32cd32"/>
<rect x="442" y="119" width="1" height="17" fill="#32cd32"/>
<rect x="441" y="123" width="3" height="10" fill="#32cd32"/>
<rect x="446" y="112" width="1" height="34" fill="#ff0000"/>
<rect x="445" y="126" width="3" height="7" fill="#ff0000"/>
<rect x="446" y="127" width="1" height="5" fill="#ff4500"/>
<rect x="450" y="115" width="1" height="15" fill="#ff0000"/>
<rect x="449" y="122" width="3" height="4" fill="#ff0000"/>
<rect x="450" y="123" width="1" height="2" fill="#ff4500"/>
<rect x="454" y="110" width="1" height="15" fill="#ff0000"/>
<rect x="453" y="121" width="3" height="3" fill="#ff0000"/>
<rect x="454" y="122" width="1" height="1" fill="#ff4500"/>
<rect x="458" y="115" width="1" height="21" fill="#32cd32"/>
<rect x="457" y="120" width="3" height="11" fill="#32cd32"/>
<rect x="462" y="121" width="1" height="16" fill="#32cd32"/>
<rect x="461" y="129" width="3" height="8" fill="#32cd32"/>
<rect x="466" y="129" width="1" height="13" fill="#ff0000"/>
<rect x="465" y="135" width="3" height="2" fill="#ff0000"/>
<rect x="470" y="129" width="1" height="30" fill="#32cd32"/>
<rect x="469" y="134" width="3" height="24" fill="#32cd32"/>
<rect x="474" y="151" width="1" height="25" fill="#32cd32"/>
<rect x="473" y="157" width="3" height="8" fill="#32cd32"/>
<rect x="478" y="138" width="1" height="37" fill="#ff0000"/>
<rect x="477" y="152" width="3" height="13" fill="#ff0000"/>
<rect x="478" y="153" width="1" height="11" fill="#ff4500"/>
<rect x="482" y="149" width="1" height="16" fill="#32cd32"/>
<rect x="481" y="152" width="3" height="9" fill="#32cd32"/>
<rect x="486" y="154" width="1" height="44" fill="#32cd32"/>
<rect x="485" y="160" width="3" height="34" fill="#32cd32"/>
<rect x="490" y="154" width="1" height="39" fill="#ff0000"/>
<rect x="489" y="166" width="3" height="27" fill="#ff0000"/>
<rect x="490" y="167" width="1" height="25" fill="#ff4500"/>
<rect x="494" y="153" width="1" height="30" fill="#ff0000"/>
<rect x="493" y="162" width="3" height="7" fill="#ff0000"/>
<rect x="494" y="163" width="1" height="5" fill="#ff4500"/>
<rect x="498" y="130" width="1" height="37" fill="#ff0000"/>
<rect x="497" y="135" width="3" height="28" fill="#ff0000"/>
<rect x="498" y="136" width="1" height="26" fill="#ff4500"/>
<rect x="502" y="133" width="1" height="15" fill="#32cd32"/>
<rect x="501" y="136" width="3" height="2" fill="#32cd32"/>
<rect x="506" y="135" width="1" height="53" fill="#32cd32"/>
<rect x="505" y="137" width="3" height="45" fill="#32cd32"/>
<rect x="510" y="178" width="1" height="31" fill="#32cd32"/>
<rect x="509" y="182" width="3" height="5" fill="#32cd32"/>
<rect x="513" y="167" width="3" height="1" fill="#000"/>
<rect x="518" y="151" width="1" height="34" fill="#ff0000"/>
<rect x="517" y="153" width="3" height="15" fill="#ff0000"/>
<rect x="518" y="154" width="1" height="13" fill="#ff4500"/>
<rect x="522" y="144" width="1" height="17" fill="#ff0000"/>
<rect x="521" y="152" width="3" height="2" fill="#ff0000"/>
<rect x="526" y="143" width="1" height="17" fill="#ff0000"/>
<rect x="525" y="147" width="3" height="5" fill="#ff0000"/>
<rect x="526" y="148" width="1" height="3" fill="#ff4500"/>
<rect x="530" y="140" width="1" height="24" fill="#32cd32"/>
<rect x="529" y="147" width="3" height="16" fill="#32cd32"/>
<rect x="534" y="144" width="1" height="20" fill="#ff0000"/>
<rect x="533" y="161" width="3" height="2" fill="#ff0000"/>
<rect x="538" y="153" width="1" height="11" fill="#ff0000"/>
<rect x="537" y="156" width="3" height="6" fill="#ff0000"/>
<rect x="538" y="157" width="1" height="4" fill="#ff4500"/>
<rect x="542" y="138" width="1" height="19" fill="#ff0000"/>
<rect x="541" y="146" width="3" height="9" fill="#ff0000"/>
<rect x="542" y="147" width="1" height="7" fill="#ff4500"/>
<rect x="546" y="141" width="1" height="20" fill="#ff0000"/>
<rect x="545" y="145" width="3" height="2" fill="#ff0000"/>
<rect x="550" y="134" width="1" height="26" fill="#ff0000"/>
<rect x="549" y="141" width="3" height="5" fill="#ff0000"/>
<rect x="550" y="142" width="1" height="3" fill="#ff4500"/>
<rect x="554" y="128" width="1" height="23" fill="#32cd32"/>
<rect x="553" y="141" width="3" height="2" fill="#32cd32"/>
<rect x="558" y="130" width="1" height="16" fill="#ff0000"/>
<rect x="557" y="133" width="3" height="10" fill="#ff0000"/>
<rect x="558" y="134" width="1" height="8" fill="#ff4500"/>
<rect x="562" y="124" width="1" height="17" fill="#ff0000"/>
<rect x="561" y="133" width="3" height="3" fill="#ff0000"/>
<rect x="562" y="134" width="1" height="1" fill="#ff4500"/>
<rect x="566" y="118" width="1" height="21" fill="#32cd32"/>
<rect x="565" y="134" width="3" height="2" fill="#32cd32"/>
<rect x="570" y="133" width="1" height="21" fill="#32cd32"/>
<rect x="569" y="136" width="3" height="10" fill="#32cd32"/>
<rect x="574" y="143" width="1" height="20" fill="#32cd32"/>
<rect x="573" y="145" width="3" height="13" fill="#32cd32"/>
<rect x="578" y="152" width="1" height="30" fill="#32cd32"/>
<rect x="577" y="157" width="3" height="14" fill="#32cd32"/>
<rect x="582" y="167" width="1" height="17" fill="#32cd32"/>
<rect x="581" y="170" width="3" height="10" fill="#32cd32"/>
<rect x="586" y="166" width="1" height="16" fill="#ff0000"/>
<rect x="585" y="168" width="3" height="12" fill="#ff0000"/>
<rect x="586" y="169" width="1" height="10" fill="#ff4500"/>
<rect x="590" y="161" width="1" height="27" fill="#32cd32"/>
<rect x="589" y="168" width="3" height="9" fill="#32cd32"/>
<rect x="594" y="166" width="1" height="22" fill="#ff0000"/>
<rect x="593" y="172" width="3" height="5" fill="#ff0000"/>
<rect x="594" y="173" width="1" height="3" fill="#ff4500"/>
<rect x="598" y="164" width="1" height="15" fill="#32cd32"/>
<rect x="597" y="171" width="3" height="5" fill="#32cd32"/>
<rect x="602" y="165" width="1" height="13" fill="#ff0000"/>
<rect x="601" y="167" width="3" height="9" fill="#ff0000"/>
<rect x="602" y="168" width="1" height="7" fill="#ff4500"/>
<rect x="606" y="167" width="1" height="10" fill="#32cd32"/>
<rect x="605" y="169" width="3" height="7" fill="#32cd32"/>
<rect x="610" y="165" width="1" height="15" fill="#ff0000"/>
<rect x="609" y="166" width="3" height="8" fill="#ff0000"/>
<rect x="610" y="167" width="1" height="6" fill="#ff4500"/>
<rect x="614" y="153" width="1" height="25" fill="#ff0000"/>
<rect x="613" y="160" width="3" height="9" fill="#ff0000"/>
<rect x="614" y="161" width="1" height="7" fill="#ff4500"/>
<rect x="618" y="144" width="1" height="19" fill="#ff0000"/>
<rect x="617" y="146" width="3" height="15" fill="#ff0000"/>
<rect x="618" y="147" width="1" height="13" fill="#ff4500"/>
<rect x="622" y="126" width="1" height="23" fill="#ff0000"/>
<rect x="621" y="134" width="3" height="14" fill="#ff0000"/>
<rect x="622" y="135" width="1" height="12" fill="#ff4500"/>
<rect x="626" y="128" width="1" height="13" fill="#32cd32"/>
<rect x="625" y="134" width="3" height="3" fill="#32cd32"/>
<rect x="630" y="125" width="1" height="16" fill="#ff0000"/>
<rect x="629" y="127" width="3" height="9" fill="#ff0000"/>
<rect x="630" y="128" width="1" height="7" fill="#ff4500"/>
<rect x="634" y="130" width="1" height="15" fill="#32cd32"/>
<rect x="633" y="137" width="3" height="3" fill="#32cd32"/>
<rect x="638" y="139" width="1" height="24" fill="#32cd32"/>
<rect x="637" y="140" width="3" height="19" fill="#32cd32"/>
<rect x="642" y="144" width="1" height="20" fill="#ff0000"/>
<rect x="641" y="145" width="3" height="14" fill="#ff0000"/>
<rect x="642" y="146" width="1" height="12" fill="#ff4500"/>
<rect x="646" y="140" width="1" height="12" fill="#32cd32"/>
<rect x="645" y="144" width="3" height="5" fill="#32cd32"/>
<rect x="650" y="135" width="1" height="15" fill="#ff0000"/>
<rect x="649" y="138" width="3" height="11" fill="#ff0000"/>
<rect x="650" y="139" width="1" height="9" fill="#ff4500"/>
<rect x="654" y="113" width="1" height="30" fill="#ff0000"/>
<rect x="653" y="129" width="3" height="9" fill="#ff0000"/>
<rect x="654" y="130" width="1" height="7" fill="#ff4500"/>
<rect x="658" y="119" width="1" height="18" fill="#32cd32"/>
<rect x="657" y="129" width="3" height="4" fill="#32cd32"/>
<rect x="662" y="115" width="1" height="44" fill="#ff0000"/>
<rect x="661" y="126" width="3" height="8" fill="#ff0000"/>
<rect x="662" y="127" width="1" height="6" fill="#ff4500"/>
<rect x="666" y="121" width="1" height="16" fill="#32cd32"/>
<rect x="665" y="126" width="3" height="7" fill="#32cd32"/>
<rect x="670" y="112" width="1" height="22" fill="#ff0000"/>
<rect x="669" y="113" width="3" height="20" fill="#ff0000"/>
<rect x="670" y="114" width="1" height="18" fill="#ff4500"/>
<rect x="674" y="100" width="1" height="14" fill="#ff0000"/>
<rect x="673" y="105" width="3" height="9" fill="#ff0000"/>
<rect x="674" y="106" width="1" height="7" fill="#ff4500"/>
<rect x="678" y="104" width="1" height="14" fill="#32cd32"/>
<rect x="677" y="104" width="3" height="12" fill="#32cd32"/>
<rect x="682" y="108" width="1" height="14" fill="#32cd32"/>
<rect x="681" y="113" width="3" height="2" fill="#32cd32"/>
<rect x="686" y="109" width="1" height="14" fill="#ff0000"/>
<rect x="685" y="112" width="3" height="3" fill="#ff0000"/>
<rect x="686" y="113" width="1" height="1" fill="#ff4500"/>
<rect x="690" y="104" width="1" height="12" fill="#ff0000"/>
<rect x="689" y="111" width="3" height="2" fill="#ff0000"/>
<rect x="694" y="99" width="1" height="18" fill="#ff0000"/>
<rect x="693" y="106" width="3" height="7" fill="#ff0000"/>
<rect x="694" y="107" width="1" height="5" fill="#ff4500"/>
<rect x="698" y="104" width="1" height="55" fill="#32cd32"/>
<rect x="697" y="107" width="3" height="43" fill="#32cd32"/>
<rect x="702" y="139" width="1" height="13" fill="#ff0000"/>
<rect x="701" y="142" width="3" height="8" fill="#ff0000"/>
<rect x="702" y="143" width="1" height="6" fill="#ff4500"/>
<rect x="706" y="129" width="1" height="20" fill="#32cd32"/>
<rect x="705" y="142" width="3" height="2" fill="#32cd32"/>
<rect x="710" y="142" width="1" height="22" fill="#32cd32"/>
<rect x="709" y="144" width="3" height="4" fill="#32cd32"/>
<rect x="714" y="130" width="1" height="20" fill="#ff0000"/>
<rect x="713" y="137" width="3" height="11" fill="#ff0000"/>
<rect x="714" y="138" width="1" height="9" fill="#ff4500"/>
<rect x="718" y="136" width="1" height="25" fill="#32cd32"/>
<rect x="717" y="137" width="3" height="11" fill="#32cd32"/>
<rect x="722" y="139" width="1" height="21" fill="#32cd32"/>
<rect x="721" y="147" width="3" height="8" fill="#32cd32"/>
<rect x="726" y="140" width="1" height="17" fill="#ff0000"/>
<rect x="725" y="150" width="3" height="4" fill="#ff0000"/>
<rect x="726" y="151" width="1" height="2" fill="#ff4500"/>
<rect x="730" y="133" width="1" height="22" fill="#ff0000"/>
<rect x="729" y="142" width="3" height="11" fill="#ff0000"/>
<rect x="730" y="143" width="1" height="9" fill="#ff4500"/>
<rect x="734" y="132" width="1" height="14" fill="#ff0000"/>
<rect x="733" y="133" width="3" height="10" fill="#ff0000"/>
<rect x="734" y="134" width="1" height="8" fill="#ff4500"/>
<rect x="738" y="125" width="1" height="20" fill="#ff0000"/>
<rect x="737" y="132" width="3" height="2" fill="#ff0000"/>
<rect x="742" y="105" width="1" height="39" fill="#ff0000"/>
<rect x="741" y="106" width="3" height="27" fill="#ff0000"/>
<rect x="742" y="107" width="1" height="25" fill="#ff4500"/>
<rect x="746" y="104" width="1" height="24" fill="#32cd32"/>
<rect x="745" y="106" width="3" height="16" fill="#32cd32"/>
<rect x="750" y="173" width="1" height="20" fill="#32cd32"/>
<rect x="749" y="189" width="3" height="4" fill="#32cd32"/>
<rect x="754" y="191" width="1" height="89" fill="#32cd32"/>
<rect x="753" y="192" width="3" height="70" fill="#32cd32"/>
<rect x="758" y="244" width="1" height="36" fill="#ff0000"/>
<rect x="757" y="248" width="3" height="14" fill="#ff0000"/>
<rect x="758" y="249" width="1" height="12" fill="#ff4500"/>
<rect x="762" y="238" width="1" height="42" fill="#32cd32"/>
<rect x="761" y="248" width="3" height="26" fill="#32cd32"/>
<rect x="766" y="272" width="1" height="22" fill="#32cd32"/>
<rect x="765" y="273" width="3" height="5" fill="#32cd32"/>
<rect x="770" y="275" width="1" height="19" fill="#32cd32"/>
<rect x="769" y="277" width="3" height="15" fill="#32cd32"/>
<rect x="774" y="271" width="1" height="68" fill="#32cd32"/>
<rect x="773" y="291" width="3" height="48" fill="#32cd32"/>
<rect x="778" y="337" width="1" height="47" fill="#32cd32"/>
<rect x="777" y="338" width="3" height="22" fill="#32cd32"/>
<rect x="782" y="356" width="1" height="42" fill="#32cd32"/>
<rect x="781" y="360" width="3" height="15" fill="#32cd32"/>
<rect x="786" y="349" width="1" height="51" fill="#ff0000"/>
<rect x="785" y="355" width="3" height="20" fill="#ff0000"/>
<rect x="786" y="356" width="1" height="18" fill="#ff4500"/>
<rect x="790" y="336" width="1" height="31" fill="#ff0000"/>
<rect x="789" y="355" width="3" height="1" fill="#ff0000"/>
<rect x="794" y="334" width="1" height="26" fill="#ff0000"/>
<rect x="793" y="335" width="3" height="21" fill="#ff0000"/>
<rect x="794" y="336" width="1" height="19" fill="#ff4500"/>
<rect x="798" y="302" width="1" height="52" fill="#ff0000"/>
<rect x="797" y="305" width="3" height="31" fill="#ff0000"/>
<rect x="798" y="306" width="1" height="29" fill="#ff4500"/>
<rect x="802" y="293" width="1" height="29" fill="#32cd32"/>
<rect x="801" y="305" width="3" height="5" fill="#32cd32"/>
<rect x="806" y="302" width="1" height="31" fill="#32cd32"/>
<rect x="805" y="310" width="3" height="22" fill="#32cd32"/>
<rect x="810" y="312" width="1" height="22" fill="#ff0000"/>
<rect x="809" y="318" width="3" height="13" fill="#ff0000"/>
<rect x="810" y="319" width="1" height="11" fill="#ff4500"/>
<rect x="814" y="313" width="1" height="16" fill="#32cd32"/>
<rect x="813" y="320" width="3" height="2" fill="#32cd32"/>
<rect x="818" y="306" width="1" height="26" fill="#ff0000"/>
<rect x="817" y="307" width="3" height="14" fill="#ff0000"/>
<rect x="818" y="308" width="1" height="12" fill="#ff4500"/>
<rect x="822" y="265" width="1" height="43" fill="#ff0000"/>
<rect x="821" y="266" width="3" height="42" fill="#ff0000"/>
<rect x="822" y="267" width="1" height="40" fill="#ff4500"/>
<rect x="826" y="228" width="1" height="49" fill="#ff0000"/>
<rect x="825" y="265" width="3" height="2" fill="#ff0000"/>
<rect x="830" y="216" width="1" height="59" fill="#ff0000"/>
<rect x="829" y="240" width="3" height="24" fill="#ff0000"/>
<rect x="830" y="241" width="1" height="22" fill="#ff4500"/>
<rect x="834" y="232" width="1" height="47" fill="#32cd32"/>
<rect x="833" y="240" width="3" height="21" fill="#32cd32"/>
<rect x="838" y="241" width="1" height="29" fill="#ff0000"/>
<rect x="837" y="260" width="3" height="1" fill="#ff0000"/>
<rect x="842" y="260" width="1" height="27" fill="#32cd32"/>
<rect x="841" y="260" width="3" height="20" fill="#32cd32"/>
<rect x="846" y="254" width="1" height="55" fill="#32cd32"/>
<rect x="845" y="279" width="3" height="20" fill="#32cd32"/>
<rect x="850" y="267" width="1" height="37" fill="#ff0000"/>
<rect x="849" y="270" width="3" height="30" fill="#ff0000"/>
<rect x="850" y="271" width="1" height="28" fill="#ff4500"/>
<rect x="854" y="251" width="1" height="26" fill="#ff0000"/>
<rect x="853" y="254" width="3" height="16" fill="#ff0000"/>
<rect x="854" y="255" width="1" height="14" fill="#ff4500"/>
<rect x="858" y="254" width="1" height="42" fill="#32cd32"/>
<rect x="857" y="254" width="3" height="17" fill="#32cd32"/>
<rect x="862" y="251" width="1" height="24" fill="#ff0000"/>
<rect x="861" y="268" width="3" height="3" fill="#ff0000"/>
<rect x="862" y="269" width="1" height="1" fill="#ff4500"/>
<rect x="865" y="268" width="3" height="1" fill="#000"/>
<rect x="870" y="226" width="1" height="31" fill="#32cd32"/>
<rect x="869" y="226" width="3" height="12" fill="#32cd32"/>
<rect x="874" y="187" width="1" height="52" fill="#ff0000"/>
<rect x="873" y="207" width="3" height="32" fill="#ff0000"/>
<rect x="874" y="208" width="1" height="30" fill="#ff4500"/>
<rect x="878" y="193" width="1" height="21" fill="#ff0000"/>
<rect x="877" y="203" width="3" height="5" fill="#ff0000"/>
<rect x="878" y="204" width="1" height="3" fill="#ff4500"/>
<rect x="882" y="190" width="1" height="23" fill="#ff0000"/>
<rect x="881" y="190" width="3" height="14" fill="#ff0000"/>
<rect x="882" y="191" width="1" height="12" fill="#ff4500"/>
<rect x="886" y="185" width="1" height="20" fill="#32cd32"/>
<rect x="885" y="190" width="3" height="8" fill="#32cd32"/>
<rect x="890" y="195" width="1" height="14" fill="#32cd32"/>
<rect x="889" y="197" width="3" height="4" fill="#32cd32"/>
<rect x="894" y="181" width="1" height="58" fill="#32cd32"/>
<rect x="893" y="199" width="3" height="32" fill="#32cd32"/>
<rect x="898" y="216" width="1" height="27" fill="#ff0000"/>
<rect x="897" y="224" width="3" height="7" fill="#ff0000"/>
<rect x="898" y="225" width="1" height="5" fill="#ff4500"/>
<rect x="902" y="204" width="1" height="45" fill="#32cd32"/>
<rect x="901" y="224" width="3" height="17" fill="#32cd32"/>
<rect x="906" y="221" width="1" height="26" fill="#ff0000"/>
<rect x="905" y="222" width="3" height="19" fill="#ff0000"/>
<rect x="906" y="223" width="1" height="17" fill="#ff4500"/>
<rect x="910" y="209" width="1" height="25" fill="#32cd32"/>
<rect x="909" y="223" width="3" height="3" fill="#32cd32"/>
<rect x="914" y="215" width="1" height="36" fill="#32cd32"/>
<rect x="913" y="225" width="3" height="26" fill="#32cd32"/>
<rect x="918" y="246" width="1" height="36" fill="#32cd32"/>
<rect x="917" y="250" width="3" height="13" fill="#32cd32"/>
<rect x="922" y="247" width="1" height="25" fill="#ff0000"/>
<rect x="921" y="259" width="3" height="4" fill="#ff0000"/>
<rect x="922" y="260" width="1" height="2" fill="#ff4500"/>
<rect x="926" y="250" width="1" height="14" fill="#ff0000"/>
<rect x="925" y="257" width="3" height="3" fill="#ff0000"/>
<rect x="926" y="258" width="1" height="1" fill="#ff4500"/>
<rect x="930" y="255" width="1" height="41" fill="#32cd32"/>
<rect x="929" y="257" width="3" height="33" fill="#32cd32"/>
<rect x="934" y="282" width="1" height="23" fill="#32cd32"/>
<rect x="933" y="289" width="3" height="6" fill="#32cd32"/>
<rect x="938" y="291" width="1" height="16" fill="#32cd32"/>
<rect x="937" y="294" width="3" height="8" fill="#32cd32"/>
<rect x="942" y="286" width="1" height="20" fill="#ff0000"/>
<rect x="941" y="295" width="3" height="7" fill="#ff0000"/>
<rect x="942" y="296" width="1" height="5" fill="#ff4500"/>
<rect x="946" y="293" width="1" height="36" fill="#32cd32"/>
<rect x="945" y="295" width="3" height="25" fill="#32cd32"/>
<rect x="950" y="270" width="1" height="51" fill="#ff0000"/>
<rect x="949" y="282" width="3" height="38" fill="#ff0000"/>
<rect x="950" y="283" width="1" height="36" fill="#ff4500"/>
<rect x="954" y="259" width="1" height="38" fill="#ff0000"/>
<rect x="953" y="269" width="3" height="14" fill="#ff0000"/>
<rect x="954" y="270" width="1" height="12" fill="#ff4500"/>
<rect x="958" y="269" width="1" height="15" fill="#32cd32"/>
<rect x="957" y="269" width="3" height="12" fill="#32cd32"/>
<rect x="962" y="269" width="1" height="15" fill="#ff0000"/>
<rect x="961" y="274" width="3" height="7" fill="#ff0000"/>
<rect x="962" y="275" width="1" height="5" fill="#ff4500"/>
<rect x="966" y="250" width="1" height="28" fill="#ff0000"/>
<rect x="965" y="260" width="3" height="15" fill="#ff0000"/>
<rect x="966" y="261" width="1" height="13" fill="#ff4500"/>
<rect x="970" y="234" width="1" height="29" fill="#ff0000"/>
<rect x="969" y="240" width="3" height="21" fill="#ff0000"/>
<rect x="970" y="241" width="1" height="19" fill="#ff4500"/>
<rect x="974" y="211" width="1" height="34" fill="#ff0000"/>
<rect x="973" y="224" width="3" height="17" fill="#ff0000"/>
<rect x="974" y="225" width="1" height="15" fill="#ff4500"/>
<rect x="978" y="205" width="1" height="24" fill="#ff0000"/>
<rect x="977" y="222" width="3" height="2" fill="#ff0000"/>
<rect x="982" y="222" width="1" height="18" fill="#32cd32"/>
<rect x="981" y="222" width="3" height="4" fill="#32cd32"/>
<rect x="986" y="220" width="1" height="23" fill="#32cd32"/>
<rect x="985" y="224" width="3" height="18" fill="#32cd32"/>
<rect x="990" y="230" width="1" height="18" fill="#ff0000"/>
<rect x="989" y="234" width="3" height="8" fill="#ff0000"/>
<rect x="990" y="235" width="1" height="6" fill="#ff4500"/>
<rect x="994" y="226" width="1" height="18" fill="#32cd32"/>
<rect x="993" y="234" width="3" height="7" fill="#32cd32"/>
<rect x="998" y="229" width="1" height="14" fill="#ff0000"/>
<rect x="997" y="232" width="3" height="9" fill="#ff0000"/>
<rect x="998" y="233" width="1" height="7" fill="#ff4500"/>
<rect x="1002" y="229" width="1" height="13" fill="#32cd32"/>
<rect x="1001" y="233" width="3" height="3" fill="#32cd32"/>
<rect x="1006" y="229" width="1" height="15" fill="#32cd32"/>
<rect x="1005" y="234" width="3" height="5" fill="#32cd32"/>
<rect x="1010" y="234" width="1" height="28" fill="#32cd32"/>
<rect x="1009" y="238" width="3" height="14" fill="#32cd32"/>
<rect x="1014" y="231" width="1" height="23" fill="#ff0000"/>
<rect x="1013" y="239" width="3" height="13" fill="#ff0000"/>
<rect x="1014" y="240" width="1" height="11" fill="#ff4500"/>
<rect x="1018" y="234" width="1" height="22" fill="#32cd32"/>
<rect x="1017" y="238" width="3" height="17" fill="#32cd32"/>
<rect x="1022" y="234" width="1" height="26" fill="#ff0000"/>
<rect x="1021" y="235" width="3" height="20" fill="#ff0000"/>
<rect x="1022" y="236" width="1" height="18" fill="#ff4500"/>
<rect x="1026" y="233" width="1" height="23" fill="#32cd32"/>
<rect x="1025" y="236" width="3" height="14" fill="#32cd32"/>
<rect x="1030" y="249" width="1" height="15" fill="#32cd32"/>
<rect x="1029" y="249" width="3" height="8" fill="#32cd32"/>
<rect x="1034" y="248" width="1" height="17" fill="#32cd32"/>
<rect x="1033" y="254" width="3" height="5" fill="#32cd32"/>
<rect x="698" y="157" width="446" height="2" fill="#ff0000"/>
<rect x="589" y="188" width="550" height="2" fill="#00ff00"/>
<rect x="814" y="329" width="323" height="2" fill="#0000ff"/>
<rect x="784" y="395" width="368" height="2" fill="#0000ff"/>
<path fill="#c0c0c0" d="M1 427h3v5h-3zM5 424h3v8h-3zM9 422h3v10h-3zM13 424h3v8h-3zM17 424h3v8h-3zM21 423h3v9h-3zM25 422h3v10h-3zM29 422h3v10h-3zM33 422h3v10h-3zM37 422h3v10h-3zM41 422h3v10h-3zM45 422h3v10h-3zM49 423h3v9h-3zM53 423h3v9h-3zM57 423h3v9h-3zM61 423h3v9h-3zM65 423h3v9h-3zM69 424h3v8h-3zM73 424h3v8h-3zM77 424h3v8h-3zM81 424h3v8h-3zM85 424h3v8h-3zM89 424h3v8h-3zM93 424h3v8h-3zM97 424h3v8h-3zM101 425h3v7h-3zM105 425h3v7h-3zM109 425h3v7h-3zM113 425h3v7h-3zM117 425h3v7h-3zM121 425h3v7h-3zM125 425h3v7h-3zM129 424h3v8h-3zM133 424h3v8h-3zM137 424h3v8h-3zM141 424h3v8h-3zM145 424h3v8h-3zM149 424h3v8h-3zM153 421h3v11h-3zM157 422h3v10h-3zM161 423h3v9h-3zM165 423h3v9h-3zM169 423h3v9h-3zM173 423h3v9h-3zM177 423h3v9h-3zM181 422h3v10h-3zM185 421h3v11h-3zM189 420h3v12h-3zM193 420h3v12h-3zM197 420h3v12h-3zM201 421h3v11h-3zM205 420h3v12h-3zM209 420h3v12h-3zM213 420h3v12h-3zM217 420h3v12h-3zM221 420h3v12h-3zM225 420h3v12h-3zM229 420h3v12h-3zM233 421h3v11h-3zM237 423h3v9h-3zM241 426h3v6h-3zM245 430h3v2h-3zM249 432h3v4h-3zM253 432h3v10h-3zM257 432h3v14h-3zM261 432h3v15h-3zM265 432h3v22h-3zM269 432h3v30h-3zM273 432h3v32h-3zM277 432h3v33h-3zM281 432h3v32h-3zM285 432h3v28h-3zM289 432h3v25h-3zM293 432h3v23h-3zM297 432h3v23h-3zM301 432h3v21h-3zM305 432h3v18h-3zM309 432h3v17h-3zM313 432h3v16h-3zM317 432h3v14h-3zM321 432h3v13h-3zM325 432h3v12h-3zM329 432h3v10h-3zM333 432h3v9h-3zM337 432h3v8h-3zM341 432h3v8h-3zM345 432h3v8h-3zM349 432h3v7h-3zM353 432h3v5h-3zM357 432h3v4h-3zM361 432h3v4h-3zM365 432h3v3h-3zM369 431h3v1h-3zM373 430h3v2h-3zM377 428h3v4h-3zM381 426h3v6h-3zM385 426h3v6h-3zM389 424h3v8h-3zM393 423h3v9h-3zM397 422h3v10h-3zM401 419h3v13h-3zM405 417h3v15h-3zM409 416h3v16h-3zM413 415h3v17h-3zM417 415h3v17h-3zM421 417h3v15h-3zM425 418h3v14h-3zM429 419h3v13h-3zM433 420h3v12h-3zM437 422h3v10h-3zM441 423h3v9h-3zM445 424h3v8h-3zM449 425h3v7h-3zM453 426h3v6h-3zM457 427h3v5h-3zM461 428h3v4h-3zM465 429h3v3h-3zM469 431h3v1h-3zM473 432h3v2h-3zM477 432h3v3h-3zM481 432h3v4h-3zM485 432h3v7h-3zM489 432h3v7h-3zM493 432h3v8h-3zM497 432h3v6h-3zM501 432h3v5h-3zM505 432h3v6h-3zM509 432h3v8h-3zM513 432h3v8h-3zM517 432h3v7h-3zM521 432h3v7h-3zM525 432h3v6h-3zM529 432h3v5h-3zM533 432h3v5h-3zM537 432h3v4h-3zM541 432h3v4h-3zM545 432h3v3h-3zM549 432h3v2h-3zM553 432h3v2h-3zM557 432h3v1h-3zM561 431h3v1h-3zM565 430h3v2h-3zM569 430h3v2h-3zM573 430h3v2h-3zM577 431h3v1h-3zM581 432h3v3h-3zM585 432h3v4h-3zM589 432h3v5h-3zM593 432h3v5h-3zM597 432h3v6h-3zM601 432h3v5h-3zM605 432h3v6h-3zM609 432h3v5h-3zM613 432h3v4h-3zM617 432h3v3h-3zM621 432h3v1h-3zM625 431h3v1h-3zM629 429h3v3h-3zM633 429h3v3h-3zM637 430h3v2h-3zM641 430h3v2h-3zM645 430h3v2h-3zM649 429h3v3h-3zM653 428h3v4h-3zM657 428h3v4h-3zM661 427h3v5h-3zM665 427h3v5h-3zM669 426h3v6h-3zM673 424h3v8h-3zM677 424h3v8h-3zM681 424h3v8h-3zM685 423h3v9h-3zM689 423h3v9h-3zM693 423h3v9h-3zM697 425h3v7h-3zM701 427h3v5h-3zM705 428h3v4h-3zM709 430h3v2h-3zM713 430h3v2h-3zM717 431h3v1h-3zM721 432h3v1h-3zM725 432h3v2h-3zM729 432h3v2h-3zM733 432h3v1h-3zM737 432h3v1h-3zM741 430h3v2h-3zM745 429h3v3h-3zM749 432h3v2h-3zM753 432h3v9h-3zM757 432h3v14h-3zM761 432h3v19h-3zM765 432h3v23h-3zM769 432h3v27h-3zM773 432h3v32h-3zM777 432h3v37h-3zM781 432h3v42h-3zM785 432h3v43h-3zM789 432h3v44h-3zM793 432h3v44h-3zM797 432h3v41h-3zM801 432h3v37h-3zM805 432h3v35h-3zM809 432h3v34h-3zM813 432h3v32h-3zM817 432h3v30h-3zM821 432h3v26h-3zM825 432h3v21h-3zM829 432h3v17h-3zM833 432h3v14h-3zM837 432h3v11h-3zM841 432h3v10h-3zM845 432h3v10h-3zM849 432h3v9h-3zM853 432h3v7h-3zM857 432h3v6h-3zM861 432h3v6h-3zM865 432h3v4h-3zM869 432h3v3h-3zM873 429h3v3h-3zM877 426h3v6h-3zM881 423h3v9h-3zM885 422h3v10h-3zM889 420h3v12h-3zM893 421h3v11h-3zM897 421h3v11h-3zM901 424h3v8h-3zM905 424h3v8h-3zM909 425h3v7h-3zM913 427h3v5h-3zM917 429h3v3h-3zM921 430h3v2h-3zM925 430h3v2h-3zM929 432h3v2h-3zM933 432h3v5h-3zM937 432h3v7h-3zM941 432h3v8h-3zM945 432h3v11h-3zM949 432h3v11h-3zM953 432h3v9h-3zM957 432h3v9h-3zM961 432h3v8h-3zM965 432h3v7h-3zM969 432h3v4h-3zM973 432h3v1h-3zM977 430h3v2h-3zM981 428h3v4h-3zM985 428h3v4h-3zM989 427h3v5h-3zM993 427h3v5h-3zM997 427h3v5h-3zM1001 427h3v5h-3zM1005 428h3v4h-3zM1009 428h3v4h-3zM1013 429h3v3h-3zM1017 429h3v3h-3zM1021 429h3v3h-3zM1025 430h3v2h-3zM1029 430h3v2h-3zM1033 431h3v1h-3z"/>
<path fill="#ff0000" d="M2 429h1v1h-1zM3 428h1v1h-1zM4 428h1v1h-1zM5 428h1v1h-1zM6 428h1v1h-1zM7 427h1v1h-1zM8 427h1v1h-1zM9 427h1v1h-1zM10 426h1v1h-1zM11 426h1v1h-1zM12 426h1v1h-1zM13 426h1v1h-1zM14 425h1v1h-1zM15 425h1v1h-1zM16 425h1v1h-1zM17 424h1v1h-1zM18 424h1v1h-1zM19 424h1v1h-1zM20 423h1v1h-1zM21 423h1v1h-1zM22 423h1v1h-1zM23 422h1v1h-1zM24 422h1v1h-1zM25 422h1v1h-1zM26 422h1v1h-1zM27 422h1v1h-1zM28 422h1v1h-1zM29 421h1v1h-1zM30 421h1v1h-1zM31 421h1v1h-1zM32 421h1v1h-1zM33 421h1v1h-1zM34 421h1v1h-1zM35 421h1v1h-1zM36 421h1v1h-1zM37 421h1v1h-1zM38 421h1v1h-1zM39 421h1v1h-1zM40 421h1v1h-1zM41 421h1v1h-1zM42 421h1v1h-1zM43 421h1v1h-1zM44 421h1v1h-1zM45 421h1v1h-1zM46 421h1v1h-1zM47 421h1v1h-1zM48 421h1v1h-1zM49 421h1v1h-1zM50 421h1v1h-1zM51 421h1v1h-1zM52 421h1v1h-1zM53 421h1v1h-1zM54 422h1v1h-1zM55 422h1v1h-1zM56 422h1v1h-1zM57 422h1v1h-1zM58 422h1v1h-1zM59 422h1v1h-1zM60 422h1v1h-1zM61 422h1v1h-1zM62 422h1v1h-1zM63 422h1v1h-1zM64 422h1v1h-1zM65 423h1v1h-1zM66 423h1v1h-1zM67 423h1v1h-1zM68 423h1v1h-1zM69 423h1v1h-1zM70 423h1v1h-1zM71 423h1v1h-1zM72 423h1v1h-1zM73 423h1v1h-1zM74 423h1v1h-1zM75 423h1v1h-1zM76 423h1v1h-1zM77 423h1v1h-1zM78 423h1v1h-1zM79 423h1v1h-1zM80 423h1v1h-1zM81 423h1v1h-1zM82 423h1v1h-1zM83 423h1v1h-1zM84 423h1v1h-1zM85 423h1v1h-1zM86 423h1v1h-1zM87 423h1v1h-1zM88 423h1v1h-1zM89 423h1v1h-1zM90 423h1v1h-1zM91 423h1v1h-1zM92 423h1v1h-1zM93 423h1v1h-1zM94 423h1v1h-1zM95 423h1v1h-1zM96 423h1v1h-1zM97 423h1v1h-1zM98 423h1v1h-1zM99 423h1v1h-1zM100 423h1v1h-1zM101 423h1v2h-1zM102 424h1v1h-1zM103 424h1v1h-1zM104 424h1v1h-1zM105 424h1v1h-1zM106 424h1v1h-1zM107 424h1v1h-1zM108 424h1v1h-1zM109 424h1v1h-1zM110 424h1v1h-1zM111 424h1v1h-1zM112 424h1v1h-1zM113 424h1v1h-1zM114 424h1v1h-1zM115 424h1v1h-1zM116 424h1v1h-1zM117 424h1v1h-1zM118 424h1v1h-1zM119 424h1v1h-1zM120 424h1v1h-1zM121 424h1v1h-1zM122 425h1v1h-1zM123 425h1v1h-1zM124 425h1v1h-1zM125 425h1v1h-1zM126 425h1v1h-1zM127 425h1v1h-1zM128 424h1v1h-1zM129 424h1v1h-1zM130 424h1v1h-1zM131 424h1v1h-1zM132 424h1v1h-1zM133 424h1v1h-1zM134 424h1v1h-1zM135 424h1v1h-1zM136 424h1v1h-1zM137 424h1v1h-1zM138 424h1v1h-1zM139 424h1v1h-1zM140 424h1v1h-1zM141 424h1v1h-1zM142 424h1v1h-1zM143 424h1v1h-1zM144 424h1v1h-1zM145 424h1v1h-1zM146 424h1v1h-1zM147 424h1v1h-1zM148 424h1v1h-1zM149 424h1v1h-1zM150 424h1v1h-1zM151 424h1v1h-1zM152 424h1v1h-1zM153 423h1v1h-1zM154 423h1v1h-1zM155 423h1v1h-1zM156 423h1v1h-1zM157 423h1v1h-1zM158 423h1v1h-1zM159 423h1v1h-1zM160 423h1v1h-1zM161 423h1v1h-1zM162 423h1v1h-1zM163 423h1v1h-1zM164 423h1v1h-1zM165 423h1v1h-1zM166 423h1v1h-1zM167 423h1v1h-1zM168 423h1v1h-1zM169 423h1v1h-1zM170 423h1v1h-1zM171 423h1v1h-1zM172 423h1v1h-1zM173 423h1v1h-1zM174 423h1v1h-1zM175 423h1v1h-1zM176 423h1v1h-1zM177 423h1v1h-1zM178 423h1v1h-1zM179 423h1v1h-1zM180 423h1v1h-1zM181 423h1v1h-1zM182 422h1v2h-1zM183 422h1v1h-1zM184 421h1v1h-1zM185 421h1v1h-1zM186 421h1v1h-1zM187 421h1v1h-1zM188 421h1v1h-1zM189 421h1v1h-1zM190 421h1v1h-1zM191 421h1v1h-1zM192 421h1v1h-1zM193 421h1v1h-1zM194 421h1v1h-1zM195 421h1v1h-1zM196 421h1v1h-1zM197 421h1v1h-1zM198 421h1v1h-1zM199 421h1v1h-1zM200 421h1v1h-1zM201 421h1v1h-1zM202 421h1v1h-1zM203 421h1v1h-1zM204 421h1v1h-1zM205 421h1v1h-1zM206 421h1v1h-1zM207 421h1v1h-1zM208 421h1v1h-1zM209 421h1v1h-1zM210 421h1v1h-1zM211 421h1v1h-1zM212 421h1v1h-1zM213 421h1v1h-1zM214 421h1v1h-1zM215 420h1v2h-1zM216 420h1v1h-1zM217 420h1v1h-1zM218 420h1v1h-1zM219 420h1v1h-1zM220 420h1v1h-1zM221 420h1v1h-1zM222 420h1v1h-1zM223 420h1v1h-1zM224 420h1v1h-1zM225 420h1v1h-1zM226 420h1v1h-1zM227 420h1v1h-1zM228 420h1v1h-1zM229 420h1v1h-1zM230 420h1v1h-1zM231 420h1v1h-1zM232 420h1v1h-1zM233 420h1v2h-1zM234 421h1v1h-1zM235 421h1v1h-1zM236 421h1v1h-1zM237 421h1v1h-1zM238 421h1v1h-1zM239 421h1v1h-1zM240 421h1v1h-1zM241 421h1v1h-1zM242 421h1v1h-1zM243 421h1v1h-1zM244 421h1v1h-1zM245 421h1v1h-1zM246 421h1v2h-1zM247 422h1v1h-1zM248 422h1v1h-1zM249 423h1v1h-1zM250 424h1v1h-1zM251 425h1v1h-1zM252 425h1v1h-1zM253 426h1v1h-1zM254 427h1v1h-1zM255 427h1v1h-1zM256 428h1v1h-1zM257 428h1v1h-1zM258 429h1v1h-1zM259 429h1v1h-1zM260 430h1v1h-1zM261 430h1v1h-1zM262 431h1v2h-1zM263 432h1v1h-1zM264 433h1v2h-1zM265 435h1v1h-1zM266 435h1v2h-1zM267 437h1v1h-1zM268 437h1v2h-1zM269 439h1v1h-1zM270 440h1v2h-1zM271 441h1v1h-1zM272 442h1v2h-1zM273 444h1v1h-1zM274 444h1v2h-1zM275 446h1v1h-1zM276 446h1v3h-1zM277 448h1v1h-1zM278 448h1v2h-1zM279 450h1v1h-1zM280 450h1v2h-1zM281 451h1v1h-1zM282 452h1v2h-1zM283 453h1v1h-1zM284 453h1v2h-1zM285 454h1v1h-1zM286 454h1v2h-1zM287 455h1v1h-1zM288 456h1v1h-1zM289 456h1v1h-1zM290 456h1v2h-1zM291 457h1v1h-1zM292 457h1v2h-1zM293 458h1v1h-1zM294 458h1v1h-1zM295 458h1v1h-1zM296 459h1v1h-1zM297 459h1v1h-1zM298 459h1v1h-1zM299 459h1v1h-1zM300 459h1v1h-1zM301 459h1v1h-1zM302 459h1v1h-1zM303 458h1v1h-1zM304 458h1v1h-1zM305 458h1v1h-1zM306 457h1v2h-1zM307 457h1v1h-1zM308 456h1v2h-1zM309 456h1v1h-1zM310 456h1v1h-1zM311 456h1v1h-1zM312 455h1v1h-1zM313 455h1v1h-1zM314 454h1v1h-1zM315 454h1v1h-1zM316 453h1v2h-1zM317 453h1v1h-1zM318 452h1v2h-1zM319 452h1v1h-1zM320 451h1v2h-1zM321 451h1v1h-1zM322 450h1v2h-1zM323 450h1v1h-1zM324 450h1v1h-1zM325 449h1v1h-1zM326 449h1v1h-1zM327 448h1v1h-1zM328 448h1v1h-1zM329 448h1v1h-1zM330 447h1v1h-1zM331 447h1v1h-1zM332 446h1v2h-1zM333 446h1v1h-1zM334 445h1v2h-1zM335 445h1v1h-1zM336 445h1v1h-1zM337 444h1v1h-1zM338 444h1v1h-1zM339 444h1v1h-1zM340 443h1v2h-1zM341 443h1v1h-1zM342 443h1v1h-1zM343 442h1v1h-1zM344 442h1v1h-1zM345 442h1v1h-1zM346 442h1v1h-1zM347 441h1v1h-1zM348 441h1v1h-1zM349 441h1v1h-1zM350 441h1v1h-1zM351 440h1v1h-1zM352 440h1v1h-1zM353 440h1v1h-1zM354 440h1v1h-1zM355 440h1v1h-1zM356 439h1v1h-1zM357 439h1v1h-1zM358 439h1v1h-1zM359 439h1v1h-1zM360 439h1v1h-1zM361 439h1v1h-1zM362 438h1v2h-1zM363 438h1v1h-1zM364 438h1v1h-1zM365 438h1v1h-1zM366 438h1v1h-1zM367 437h1v1h-1zM368 437h1v1h-1zM369 437h1v1h-1zM370 436h1v2h-1zM371 436h1v1h-1zM372 436h1v1h-1zM373 435h1v1h-1zM374 435h1v1h-1zM375 435h1v1h-1zM376 434h1v2h-1zM377 434h1v1h-1zM378 433h1v2h-1zM379 433h1v1h-1zM380 433h1v1h-1zM381 433h1v1h-1zM382 432h1v1h-1zM383 432h1v1h-1zM384 431h1v2h-1zM385 431h1v1h-1zM386 430h1v2h-1zM387 430h1v1h-1zM388 429h1v2h-1zM389 429h1v1h-1zM390 429h1v1h-1zM391 428h1v1h-1zM392 428h1v1h-1zM393 428h1v1h-1zM394 427h1v2h-1zM395 427h1v1h-1zM396 426h1v2h-1zM397 426h1v1h-1zM398 426h1v1h-1zM399 426h1v1h-1zM400 425h1v1h-1zM401 425h1v1h-1zM402 424h1v2h-1zM403 424h1v1h-1zM404 424h1v1h-1zM405 423h1v1h-1zM406 423h1v1h-1zM407 423h1v1h-1zM408 422h1v1h-1zM409 422h1v1h-1zM410 421h1v2h-1zM411 421h1v1h-1zM412 420h1v2h-1zM413 420h1v1h-1zM414 419h1v2h-1zM415 419h1v1h-1zM416 419h1v1h-1zM417 418h1v1h-1zM418 418h1v1h-1zM419 418h1v1h-1zM420 417h1v2h-1zM421 417h1v1h-1zM422 417h1v1h-1zM423 417h1v1h-1zM424 417h1v1h-1zM425 417h1v1h-1zM426 417h1v1h-1zM427 417h1v1h-1zM428 416h1v1h-1zM429 416h1v1h-1zM430 416h1v1h-1zM431 416h1v1h-1zM432 416h1v1h-1zM433 416h1v1h-1zM434 416h1v1h-1zM435 416h1v1h-1zM436 416h1v2h-1zM437 417h1v1h-1zM438 417h1v1h-1zM439 417h1v1h-1zM440 417h1v1h-1zM441 417h1v1h-1zM442 418h1v1h-1zM443 418h1v1h-1zM444 418h1v1h-1zM445 418h1v1h-1zM446 418h1v2h-1zM447 419h1v1h-1zM448 419h1v1h-1zM449 420h1v1h-1zM450 420h1v1h-1zM451 420h1v1h-1zM452 421h1v1h-1zM453 421h1v1h-1zM454 421h1v2h-1zM455 422h1v1h-1zM456 422h1v1h-1zM457 422h1v1h-1zM458 422h1v2h-1zM459 423h1v1h-1zM460 423h1v1h-1zM461 423h1v1h-1zM462 424h1v1h-1zM463 424h1v1h-1zM464 424h1v1h-1zM465 424h1v1h-1zM466 425h1v1h-1zM467 425h1v1h-1zM468 425h1v1h-1zM469 425h1v1h-1zM470 426h1v1h-1zM471 426h1v1h-1zM472 426h1v1h-1zM473 426h1v1h-1zM474 426h1v2h-1zM475 427h1v1h-1zM476 427h1v1h-1zM477 427h1v1h-1zM478 427h1v2h-1zM479 428h1v1h-1zM480 428h1v1h-1zM481 428h1v1h-1zM482 429h1v1h-1zM483 429h1v1h-1zM484 430h1v1h-1zM485 430h1v1h-1zM486 431h1v1h-1zM487 431h1v1h-1zM488 432h1v1h-1zM489 432h1v1h-1zM490 432h1v2h-1zM491 433h1v1h-1zM492 433h1v2h-1zM493 434h1v1h-1zM494 434h1v1h-1zM495 434h1v1h-1zM496 434h1v2h-1zM497 435h1v1h-1zM498 435h1v1h-1zM499 435h1v1h-1zM500 436h1v1h-1zM501 436h1v1h-1zM502 436h1v1h-1zM503 436h1v1h-1zM504 436h1v1h-1zM505 437h1v1h-1zM506 437h1v1h-1zM507 437h1v1h-1zM508 437h1v1h-1zM509 437h1v1h-1zM510 437h1v1h-1zM511 437h1v1h-1zM512 437h1v1h-1zM513 438h1v1h-1zM514 438h1v1h-1zM515 438h1v1h-1zM516 438h1v1h-1zM517 438h1v1h-1zM518 438h1v1h-1zM519 438h1v1h-1zM520 438h1v1h-1zM521 438h1v1h-1zM522 438h1v1h-1zM523 438h1v1h-1zM524 437h1v2h-1zM525 437h1v1h-1zM526 437h1v1h-1zM527 437h1v1h-1zM528 437h1v1h-1zM529 437h1v1h-1zM530 437h1v1h-1zM531 437h1v1h-1zM532 437h1v1h-1zM533 437h1v1h-1zM534 437h1v1h-1zM535 437h1v1h-1zM536 437h1v1h-1zM537 437h1v1h-1zM538 437h1v1h-1zM539 437h1v1h-1zM540 437h1v1h-1zM541 437h1v1h-1zM542 437h1v1h-1zM543 437h1v1h-1zM544 437h1v1h-1zM545 436h1v1h-1zM546 436h1v1h-1zM547 436h1v1h-1zM548 436h1v1h-1zM549 436h1v1h-1zM550 435h1v1h-1zM551 435h1v1h-1zM552 435h1v1h-1zM553 435h1v1h-1zM554 434h1v1h-1zM555 434h1v1h-1zM556 434h1v1h-1zM557 434h1v1h-1zM558 433h1v2h-1zM559 433h1v1h-1zM560 433h1v1h-1zM561 433h1v1h-1zM562 433h1v1h-1zM563 433h1v1h-1zM564 432h1v1h-1zM565 432h1v1h-1zM566 432h1v1h-1zM567 432h1v1h-1zM568 432h1v1h-1zM569 432h1v1h-1zM570 431h1v2h-1zM571 431h1v1h-1zM572 431h1v1h-1zM573 431h1v1h-1zM574 431h1v1h-1zM575 431h1v1h-1zM576 431h1v1h-1zM577 431h1v1h-1zM578 431h1v1h-1zM579 431h1v1h-1zM580 431h1v1h-1zM581 431h1v1h-1zM582 431h1v1h-1zM583 431h1v1h-1zM584 431h1v1h-1zM585 431h1v1h-1zM586 431h1v1h-1zM587 432h1v1h-1zM588 432h1v1h-1zM589 432h1v1h-1zM590 432h1v1h-1zM591 432h1v1h-1zM592 432h1v1h-1zM593 432h1v1h-1zM594 432h1v1h-1zM595 432h1v1h-1zM596 432h1v1h-1zM597 432h1v1h-1zM598 432h1v2h-1zM599 433h1v1h-1zM600 433h1v1h-1zM601 433h1v1h-1zM602 433h1v1h-1zM603 433h1v1h-1zM604 434h1v1h-1zM605 434h1v1h-1zM606 434h1v1h-1zM607 435h1v1h-1zM608 435h1v1h-1zM609 435h1v1h-1zM610 435h1v1h-1zM611 435h1v1h-1zM612 435h1v2h-1zM613 436h1v1h-1zM614 436h1v1h-1zM615 436h1v1h-1zM616 436h1v1h-1zM617 436h1v1h-1zM618 436h1v1h-1zM619 436h1v1h-1zM620 436h1v1h-1zM621 436h1v1h-1zM622 436h1v1h-1zM623 436h1v1h-1zM624 435h1v2h-1zM625 435h1v1h-1zM626 435h1v1h-1zM627 435h1v1h-1zM628 434h1v1h-1zM629 434h1v1h-1zM630 434h1v1h-1zM631 434h1v1h-1zM632 433h1v1h-1zM633 433h1v1h-1zM634 433h1v1h-1zM635 433h1v1h-1zM636 432h1v2h-1zM637 432h1v1h-1zM638 432h1v1h-1zM639 432h1v1h-1zM640 432h1v1h-1zM641 432h1v1h-1zM642 431h1v1h-1zM643 431h1v1h-1zM644 431h1v1h-1zM645 431h1v1h-1zM646 430h1v2h-1zM647 430h1v1h-1zM648 430h1v1h-1zM649 430h1v1h-1zM650 430h1v1h-1zM651 430h1v1h-1zM652 430h1v1h-1zM653 429h1v1h-1zM654 429h1v1h-1zM655 429h1v1h-1zM656 429h1v1h-1zM657 429h1v1h-1zM658 429h1v1h-1zM659 429h1v1h-1zM660 429h1v1h-1zM661 429h1v1h-1zM662 429h1v1h-1zM663 429h1v1h-1zM664 428h1v2h-1zM665 428h1v1h-1zM666 428h1v1h-1zM667 428h1v1h-1zM668 428h1v1h-1zM669 428h1v1h-1zM670 428h1v1h-1zM671 428h1v1h-1zM672 427h1v2h-1zM673 427h1v1h-1zM674 427h1v1h-1zM675 427h1v1h-1zM676 426h1v2h-1zM677 426h1v1h-1zM678 426h1v1h-1zM679 426h1v1h-1zM680 426h1v1h-1zM681 426h1v1h-1zM682 426h1v1h-1zM683 426h1v1h-1zM684 425h1v2h-1zM685 425h1v1h-1zM686 425h1v1h-1zM687 425h1v1h-1zM688 425h1v1h-1zM689 425h1v1h-1zM690 425h1v1h-1zM691 425h1v1h-1zM692 425h1v1h-1zM693 424h1v1h-1zM694 424h1v1h-1zM695 424h1v1h-1zM696 424h1v1h-1zM697 424h1v1h-1zM698 424h1v1h-1zM699 424h1v1h-1zM700 424h1v1h-1zM701 424h1v1h-1zM702 424h1v1h-1zM703 424h1v1h-1zM704 424h1v1h-1zM705 424h1v1h-1zM706 424h1v1h-1zM707 425h1v1h-1zM708 425h1v1h-1zM709 425h1v1h-1zM710 425h1v1h-1zM711 425h1v1h-1zM712 426h1v1h-1zM713 426h1v1h-1zM714 426h1v1h-1zM715 426h1v1h-1zM716 426h1v2h-1zM717 427h1v1h-1zM718 427h1v1h-1zM719 427h1v1h-1zM720 428h1v1h-1zM721 428h1v1h-1zM722 428h1v1h-1zM723 428h1v1h-1zM724 429h1v1h-1zM725 429h1v1h-1zM726 429h1v2h-1zM727 430h1v1h-1zM728 430h1v1h-1zM729 430h1v1h-1zM730 430h1v2h-1zM731 431h1v1h-1zM732 431h1v1h-1zM733 431h1v1h-1zM734 431h1v1h-1zM735 431h1v1h-1zM736 431h1v1h-1zM737 431h1v1h-1zM738 431h1v1h-1zM739 431h1v1h-1zM740 431h1v1h-1zM741 431h1v1h-1zM742 431h1v1h-1zM743 431h1v1h-1zM744 431h1v1h-1zM745 431h1v1h-1zM746 431h1v1h-1zM747 431h1v1h-1zM748 431h1v1h-1zM749 431h1v1h-1zM750 431h1v2h-1zM751 432h1v1h-1zM752 432h1v1h-1zM753 432h1v1h-1zM754 432h1v2h-1zM755 433h1v1h-1zM756 433h1v1h-1zM757 434h1v1h-1zM758 434h1v1h-1zM759 434h1v1h-1zM760 435h1v1h-1zM761 435h1v1h-1zM762 435h1v2h-1zM763 436h1v1h-1zM764 436h1v2h-1zM765 438h1v1h-1zM766 438h1v2h-1zM767 439h1v1h-1zM768 440h1v2h-1zM769 441h1v1h-1zM770 442h1v2h-1zM771 443h1v1h-1zM772 444h1v2h-1zM773 445h1v1h-1zM774 446h1v2h-1zM775 448h1v1h-1zM776 448h1v2h-1zM777 450h1v1h-1zM778 450h1v2h-1zM779 452h1v1h-1zM780 452h1v2h-1zM781 454h1v1h-1zM782 454h1v2h-1zM783 456h1v1h-1zM784 456h1v2h-1zM785 458h1v1h-1zM786 458h1v2h-1zM787 459h1v1h-1zM788 460h1v2h-1zM789 461h1v1h-1zM790 462h1v1h-1zM791 463h1v1h-1zM792 463h1v2h-1zM793 464h1v1h-1zM794 465h1v2h-1zM795 466h1v1h-1zM796 466h1v2h-1zM797 467h1v1h-1zM798 468h1v1h-1zM799 468h1v1h-1zM800 469h1v1h-1zM801 469h1v1h-1zM802 469h1v2h-1zM803 470h1v1h-1zM804 470h1v1h-1zM805 471h1v1h-1zM806 471h1v1h-1zM807 471h1v1h-1zM808 471h1v1h-1zM809 471h1v1h-1zM810 471h1v1h-1zM811 471h1v1h-1zM812 471h1v1h-1zM813 471h1v1h-1zM814 470h1v2h-1zM815 470h1v1h-1zM816 470h1v1h-1zM817 469h1v1h-1zM818 469h1v1h-1zM819 468h1v1h-1zM820 468h1v1h-1zM821 467h1v1h-1zM822 467h1v1h-1zM823 466h1v1h-1zM824 466h1v1h-1zM825 465h1v1h-1zM826 464h1v2h-1zM827 464h1v1h-1zM828 463h1v2h-1zM829 463h1v1h-1zM830 462h1v1h-1zM831 461h1v1h-1zM832 460h1v2h-1zM833 460h1v1h-1zM834 459h1v1h-1zM835 458h1v1h-1zM836 457h1v2h-1zM837 457h1v1h-1zM838 455h1v2h-1zM839 455h1v1h-1zM840 454h1v1h-1zM841 453h1v1h-1zM842 452h1v2h-1zM843 452h1v1h-1zM844 450h1v2h-1zM845 450h1v1h-1zM846 449h1v1h-1zM847 448h1v1h-1zM848 447h1v2h-1zM849 447h1v1h-1zM850 446h1v1h-1zM851 446h1v1h-1zM852 445h1v1h-1zM853 444h1v1h-1zM854 444h1v1h-1zM855 443h1v1h-1zM856 443h1v1h-1zM857 443h1v1h-1zM858 442h1v1h-1zM859 442h1v1h-1zM860 441h1v2h-1zM861 441h1v1h-1zM862 441h1v1h-1zM863 440h1v1h-1zM864 440h1v1h-1zM865 440h1v1h-1zM866 439h1v2h-1zM867 439h1v1h-1zM868 439h1v1h-1zM869 439h1v1h-1zM870 438h1v1h-1zM871 438h1v1h-1zM872 437h1v2h-1zM873 437h1v1h-1zM874 436h1v2h-1zM875 436h1v1h-1zM876 435h1v2h-1zM877 435h1v1h-1zM878 434h1v2h-1zM879 434h1v1h-1zM880 433h1v2h-1zM881 433h1v1h-1zM882 432h1v1h-1zM883 432h1v1h-1zM884 431h1v1h-1zM885 431h1v1h-1zM886 430h1v1h-1zM887 430h1v1h-1zM888 429h1v1h-1zM889 429h1v1h-1zM890 428h1v1h-1zM891 428h1v1h-1zM892 427h1v2h-1zM893 427h1v1h-1zM894 426h1v2h-1zM895 426h1v1h-1zM896 425h1v2h-1zM897 425h1v1h-1zM898 424h1v2h-1zM899 424h1v1h-1zM900 424h1v1h-1zM901 423h1v1h-1zM902 423h1v1h-1zM903 423h1v1h-1zM904 423h1v1h-1zM905 422h1v1h-1zM906 422h1v1h-1zM907 422h1v1h-1zM908 422h1v1h-1zM909 422h1v1h-1zM910 422h1v1h-1zM911 422h1v1h-1zM912 422h1v1h-1zM913 422h1v1h-1zM914 422h1v1h-1zM915 422h1v1h-1zM916 422h1v1h-1zM917 422h1v1h-1zM918 422h1v1h-1zM919 422h1v1h-1zM920 422h1v2h-1zM921 423h1v1h-1zM922 423h1v1h-1zM923 423h1v1h-1zM924 424h1v1h-1zM925 424h1v1h-1zM926 424h1v2h-1zM927 425h1v1h-1zM928 425h1v2h-1zM929 426h1v1h-1zM930 426h1v1h-1zM931 426h1v1h-1zM932 427h1v1h-1zM933 427h1v1h-1zM934 427h1v2h-1zM935 428h1v1h-1zM936 428h1v1h-1zM937 429h1v1h-1zM938 429h1v1h-1zM939 429h1v1h-1zM940 430h1v1h-1zM941 430h1v1h-1zM942 430h1v2h-1zM943 431h1v1h-1zM944 431h1v2h-1zM945 432h1v1h-1zM946 433h1v1h-1zM947 433h1v1h-1zM948 434h1v1h-1zM949 434h1v1h-1zM950 434h1v2h-1zM951 435h1v1h-1zM952 435h1v2h-1zM953 436h1v1h-1zM954 436h1v2h-1zM955 437h1v1h-1zM956 437h1v2h-1zM957 438h1v1h-1zM958 438h1v1h-1zM959 438h1v1h-1zM960 438h1v2h-1zM961 439h1v1h-1zM962 439h1v1h-1zM963 439h1v1h-1zM964 439h1v1h-1zM965 439h1v1h-1zM966 439h1v1h-1zM967 439h1v1h-1zM968 439h1v1h-1zM969 439h1v1h-1zM970 439h1v1h-1zM971 439h1v1h-1zM972 439h1v1h-1zM973 439h1v1h-1zM974 439h1v1h-1zM975 439h1v1h-1zM976 438h1v1h-1zM977 438h1v1h-1zM978 437h1v1h-1zM979 437h1v1h-1zM980 436h1v1h-1zM981 436h1v1h-1zM982 435h1v2h-1zM983 435h1v1h-1zM984 434h1v2h-1zM985 434h1v1h-1zM986 434h1v1h-1zM987 433h1v1h-1zM988 433h1v1h-1zM989 433h1v1h-1zM990 432h1v1h-1zM991 432h1v1h-1zM992 431h1v2h-1zM993 431h1v1h-1zM994 431h1v1h-1zM995 430h1v1h-1zM996 430h1v1h-1zM997 430h1v1h-1zM998 429h1v1h-1zM999 429h1v1h-1zM1000 429h1v1h-1zM1001 429h1v1h-1zM1002 428h1v1h-1zM1003 428h1v1h-1zM1004 428h1v1h-1zM1005 428h1v1h-1zM1006 428h1v1h-1zM1007 428h1v1h-1zM1008 428h1v1h-1zM1009 428h1v1h-1zM1010 427h1v2h-1zM1011 427h1v1h-1zM1012 427h1v1h-1zM1013 427h1v1h-1zM1014 427h1v1h-1zM1015 427h1v1h-1zM1016 427h1v1h-1zM1017 427h1v1h-1zM1018 427h1v1h-1zM1019 427h1v1h-1zM1020 427h1v1h-1zM1021 427h1v1h-1zM1022 427h1v1h-1zM1023 427h1v1h-1zM1024 427h1v1h-1zM1025 428h1v1h-1zM1026 428h1v1h-1zM1027 428h1v1h-1zM1028 428h1v1h-1zM1029 428h1v1h-1zM1030 428h1v1h-1zM1031 428h1v1h-1zM1032 428h1v1h-1zM1033 428h1v1h-1zM1034 428h1v1h-1z"/>
<line x1="3" y1="503.5" x2="1306" y2="503.5" stroke="#c0c0c0" stroke-width="1" stroke-dasharray="3 3"/>
<line x1="3" y1="531.5" x2="1306" y2="531.5" stroke="#c0c0c0" stroke-width="1" stroke-dasharray="3 3"/>
<path fill="#1e90ff" d="M2 510h1v1h-1zM3 510h1v1h-1zM4 509h1v1h-1zM5 509h1v1h-1zM6 508h1v1h-1zM7 508h1v1h-1zM8 507h1v1h-1zM9 506h1v1h-1zM10 506h1v1h-1zM11 506h1v1h-1zM12 505h1v2h-1zM13 505h1v1h-1zM14 505h1v1h-1zM15 505h1v1h-1zM16 506h1v1h-1zM17 506h1v1h-1zM18 506h1v1h-1zM19 506h1v1h-1zM20 506h1v1h-1zM21 506h1v1h-1zM22 506h1v1h-1zM23 507h1v2h-1zM24 509h1v1h-1zM25 510h1v2h-1zM26 512h1v1h-1zM27 512h1v1h-1zM28 512h1v1h-1zM29 512h1v1h-1zM30 512h1v1h-1zM31 513h1v2h-1zM32 515h1v1h-1zM33 516h1v2h-1zM34 518h1v1h-1zM35 517h1v1h-1zM36 515h1v2h-1zM37 515h1v1h-1zM38 514h1v1h-1zM39 514h1v1h-1zM40 513h1v1h-1zM41 512h1v1h-1zM42 512h1v1h-1zM43 512h1v1h-1zM44 512h1v1h-1zM45 512h1v1h-1zM46 512h1v1h-1zM47 513h1v1h-1zM48 514h1v1h-1zM49 515h1v1h-1zM50 516h1v1h-1zM51 515h1v1h-1zM52 514h1v2h-1zM53 513h1v1h-1zM54 512h1v1h-1zM55 512h1v1h-1zM56 511h1v1h-1zM57 510h1v1h-1zM58 510h1v1h-1zM59 510h1v1h-1zM60 509h1v1h-1zM61 509h1v1h-1zM62 509h1v1h-1zM63 509h1v1h-1zM64 510h1v1h-1zM65 511h1v1h-1zM66 512h1v1h-1zM67 512h1v1h-1zM68 512h1v1h-1zM69 512h1v1h-1zM70 512h1v1h-1zM71 512h1v1h-1zM72 511h1v2h-1zM73 511h1v1h-1zM74 511h1v1h-1zM75 511h1v1h-1zM76 511h1v1h-1zM77 511h1v1h-1zM78 512h1v1h-1zM79 511h1v1h-1zM80 511h1v1h-1zM81 511h1v1h-1zM82 511h1v1h-1zM83 511h1v1h-1zM84 511h1v1h-1zM85 511h1v1h-1zM86 511h1v1h-1zM87 512h1v1h-1zM88 512h1v2h-1zM89 513h1v1h-1zM90 514h1v1h-1zM91 514h1v1h-1zM92 514h1v1h-1zM93 514h1v1h-1zM94 514h1v1h-1zM95 514h1v1h-1zM96 514h1v1h-1zM97 514h1v1h-1zM98 514h1v1h-1zM99 513h1v1h-1zM100 512h1v2h-1zM101 512h1v1h-1zM102 512h1v1h-1zM103 511h1v1h-1zM104 510h1v2h-1zM105 510h1v1h-1zM106 510h1v1h-1zM107 509h1v1h-1zM108 508h1v1h-1zM109 507h1v1h-1zM110 507h1v1h-1zM111 508h1v1h-1zM112 509h1v2h-1zM113 511h1v1h-1zM114 512h1v1h-1zM115 512h1v1h-1zM116 512h1v1h-1zM117 512h1v1h-1zM118 512h1v1h-1zM119 512h1v1h-1zM120 512h1v1h-1zM121 512h1v1h-1zM122 512h1v1h-1zM123 511h1v1h-1zM124 509h1v2h-1zM125 508h1v1h-1zM126 507h1v1h-1zM127 508h1v2h-1zM128 510h1v1h-1zM129 511h1v2h-1zM130 512h1v1h-1zM131 512h1v1h-1zM132 511h1v2h-1zM133 511h1v1h-1zM134 510h1v1h-1zM135 510h1v1h-1zM136 510h1v1h-1zM137 510h1v1h-1zM138 510h1v1h-1zM139 510h1v1h-1zM140 511h1v1h-1zM141 511h1v1h-1zM142 511h1v2h-1zM143 510h1v1h-1zM144 507h1v3h-1zM145 506h1v1h-1zM146 504h1v2h-1zM147 506h1v1h-1zM148 507h1v3h-1zM149 510h1v1h-1zM150 511h1v2h-1zM151 511h1v1h-1zM152 510h1v2h-1zM153 510h1v1h-1zM154 509h1v1h-1zM155 510h1v2h-1zM156 512h1v1h-1zM157 513h1v2h-1zM158 515h1v1h-1zM159 515h1v1h-1zM160 515h1v1h-1zM161 515h1v1h-1zM162 515h1v1h-1zM163 514h1v1h-1zM164 512h1v2h-1zM165 512h1v1h-1zM166 511h1v1h-1zM167 511h1v1h-1zM168 512h1v1h-1zM169 512h1v1h-1zM170 513h1v1h-1zM171 513h1v1h-1zM172 512h1v1h-1zM173 512h1v1h-1zM174 512h1v1h-1zM175 512h1v1h-1zM176 511h1v2h-1zM177 511h1v1h-1zM178 511h1v1h-1zM179 510h1v1h-1zM180 509h1v2h-1zM181 509h1v1h-1zM182 508h1v1h-1zM183 508h1v1h-1zM184 508h1v1h-1zM185 507h1v1h-1zM186 507h1v1h-1zM187 507h1v1h-1zM188 507h1v1h-1zM189 507h1v1h-1zM190 508h1v1h-1zM191 508h1v1h-1zM192 508h1v1h-1zM193 509h1v1h-1zM194 509h1v1h-1zM195 509h1v1h-1zM196 508h1v2h-1zM197 508h1v1h-1zM198 508h1v1h-1zM199 509h1v1h-1zM200 509h1v2h-1zM201 510h1v1h-1zM202 511h1v1h-1zM203 511h1v1h-1zM204 510h1v1h-1zM205 509h1v1h-1zM206 509h1v1h-1zM207 509h1v1h-1zM208 509h1v1h-1zM209 509h1v1h-1zM210 509h1v1h-1zM211 509h1v1h-1zM212 508h1v1h-1zM213 508h1v1h-1zM214 508h1v1h-1zM215 507h1v1h-1zM216 507h1v1h-1zM217 506h1v1h-1zM218 506h1v1h-1zM219 507h1v1h-1zM220 507h1v2h-1zM221 509h1v1h-1zM222 510h1v1h-1zM223 510h1v1h-1zM224 510h1v1h-1zM225 511h1v1h-1zM226 511h1v1h-1zM227 510h1v1h-1zM228 510h1v1h-1zM229 509h1v1h-1zM230 509h1v1h-1zM231 509h1v1h-1zM232 508h1v2h-1zM233 508h1v1h-1zM234 508h1v2h-1zM235 510h1v2h-1zM236 512h1v2h-1zM237 514h1v2h-1zM238 516h1v1h-1zM239 517h1v2h-1zM240 519h1v2h-1zM241 521h1v2h-1zM242 522h1v1h-1zM243 523h1v1h-1zM244 524h1v2h-1zM245 526h1v1h-1zM246 526h1v1h-1zM247 527h1v1h-1zM248 528h1v2h-1zM249 530h1v1h-1zM250 531h1v1h-1zM251 532h1v1h-1zM252 533h1v1h-1zM253 534h1v1h-1zM254 535h1v1h-1zM255 533h1v2h-1zM256 532h1v1h-1zM257 530h1v2h-1zM258 530h1v1h-1zM259 529h1v1h-1zM260 529h1v1h-1zM261 528h1v1h-1zM262 528h1v2h-1zM263 530h1v1h-1zM264 531h1v2h-1zM265 533h1v1h-1zM266 534h1v2h-1zM267 536h1v1h-1zM268 536h1v2h-1zM269 537h1v1h-1zM270 537h1v2h-1zM271 534h1v3h-1zM272 531h1v3h-1zM273 528h1v3h-1zM274 526h1v2h-1zM275 526h1v1h-1zM276 526h1v1h-1zM277 527h1v1h-1zM278 527h1v1h-1zM279 525h1v2h-1zM280 524h1v1h-1zM281 522h1v2h-1zM282 522h1v1h-1zM283 521h1v1h-1zM284 520h1v1h-1zM285 519h1v1h-1zM286 519h1v1h-1zM287 519h1v1h-1zM288 519h1v1h-1zM289 519h1v1h-1zM290 519h1v1h-1zM291 519h1v1h-1zM292 519h1v2h-1zM293 520h1v1h-1zM294 520h1v1h-1zM295 520h1v1h-1zM296 521h1v1h-1zM297 522h1v1h-1zM298 522h1v1h-1zM299 522h1v1h-1zM300 521h1v1h-1zM301 521h1v1h-1zM302 520h1v1h-1zM303 520h1v1h-1zM304 520h1v1h-1zM305 519h1v1h-1zM306 519h1v1h-1zM307 519h1v1h-1zM308 519h1v1h-1zM309 519h1v1h-1zM310 519h1v1h-1zM311 519h1v1h-1zM312 519h1v2h-1zM313 520h1v1h-1zM314 520h1v1h-1zM315 520h1v1h-1zM316 520h1v1h-1zM317 520h1v1h-1zM318 520h1v1h-1zM319 520h1v1h-1zM320 519h1v2h-1zM321 519h1v1h-1zM322 519h1v1h-1zM323 519h1v1h-1zM324 519h1v2h-1zM325 520h1v1h-1zM326 520h1v1h-1zM327 519h1v1h-1zM328 518h1v2h-1zM329 518h1v1h-1zM330 518h1v1h-1zM331 517h1v1h-1zM332 517h1v1h-1zM333 517h1v1h-1zM334 517h1v1h-1zM335 518h1v1h-1zM336 518h1v2h-1zM337 520h1v1h-1zM338 521h1v1h-1zM339 520h1v1h-1zM340 520h1v1h-1zM341 519h1v1h-1zM342 519h1v1h-1zM343 519h1v1h-1zM344 519h1v2h-1zM345 520h1v1h-1zM346 520h1v1h-1zM347 520h1v1h-1zM348 519h1v1h-1zM349 518h1v1h-1zM350 518h1v1h-1zM351 517h1v1h-1zM352 516h1v2h-1zM353 516h1v1h-1zM354 515h1v1h-1zM355 515h1v1h-1zM356 516h1v1h-1zM357 516h1v1h-1zM358 517h1v1h-1zM359 517h1v1h-1zM360 516h1v1h-1zM361 516h1v1h-1zM362 516h1v1h-1zM363 516h1v1h-1zM364 515h1v2h-1zM365 515h1v1h-1zM366 515h1v1h-1zM367 514h1v1h-1zM368 513h1v2h-1zM369 512h1v1h-1zM370 512h1v1h-1zM371 512h1v1h-1zM372 512h1v1h-1zM373 512h1v1h-1zM374 512h1v1h-1zM375 511h1v1h-1zM376 511h1v1h-1zM377 510h1v1h-1zM378 510h1v1h-1zM379 510h1v1h-1zM380 510h1v1h-1zM381 510h1v1h-1zM382 510h1v1h-1zM383 510h1v1h-1zM384 511h1v1h-1zM385 511h1v1h-1zM386 512h1v1h-1zM387 511h1v1h-1zM388 510h1v1h-1zM389 509h1v1h-1zM390 509h1v1h-1zM391 509h1v1h-1zM392 509h1v2h-1zM393 510h1v1h-1zM394 510h1v1h-1zM395 510h1v1h-1zM396 509h1v1h-1zM397 508h1v1h-1zM398 508h1v1h-1zM399 507h1v1h-1zM400 506h1v2h-1zM401 506h1v1h-1zM402 505h1v1h-1zM403 505h1v1h-1zM404 505h1v2h-1zM405 506h1v1h-1zM406 506h1v1h-1zM407 506h1v1h-1zM408 505h1v2h-1zM409 505h1v1h-1zM410 505h1v1h-1zM411 505h1v1h-1zM412 505h1v1h-1zM413 505h1v1h-1zM414 505h1v1h-1zM415 505h1v1h-1zM416 505h1v1h-1zM417 505h1v1h-1zM418 505h1v2h-1zM419 507h1v3h-1zM420 509h1v2h-1zM421 511h1v3h-1zM422 514h1v2h-1zM423 515h1v1h-1zM424 514h1v1h-1zM425 514h1v1h-1zM426 514h1v1h-1zM427 514h1v1h-1zM428 513h1v1h-1zM429 512h1v1h-1zM430 512h1v1h-1zM431 512h1v1h-1zM432 513h1v2h-1zM433 514h1v1h-1zM434 515h1v1h-1zM435 515h1v1h-1zM436 515h1v1h-1zM437 515h1v1h-1zM438 515h1v1h-1zM439 515h1v1h-1zM440 516h1v1h-1zM441 517h1v1h-1zM442 517h1v1h-1zM443 517h1v1h-1zM444 516h1v1h-1zM445 516h1v1h-1zM446 516h1v1h-1zM447 515h1v1h-1zM448 515h1v1h-1zM449 515h1v1h-1zM450 515h1v1h-1zM451 515h1v1h-1zM452 515h1v1h-1zM453 515h1v1h-1zM454 515h1v1h-1zM455 515h1v1h-1zM456 516h1v1h-1zM457 516h1v1h-1zM458 516h1v1h-1zM459 517h1v1h-1zM460 517h1v2h-1zM461 518h1v1h-1zM462 518h1v1h-1zM463 519h1v1h-1zM464 519h1v1h-1zM465 519h1v1h-1zM466 519h1v1h-1zM467 520h1v1h-1zM468 521h1v2h-1zM469 523h1v1h-1zM470 524h1v1h-1zM471 524h1v1h-1zM472 524h1v1h-1zM473 525h1v1h-1zM474 525h1v1h-1zM475 524h1v1h-1zM476 523h1v2h-1zM477 522h1v1h-1zM478 522h1v1h-1zM479 522h1v1h-1zM480 522h1v1h-1zM481 523h1v1h-1zM482 523h1v1h-1zM483 524h1v2h-1zM484 526h1v1h-1zM485 527h1v2h-1zM486 528h1v1h-1zM487 527h1v2h-1zM488 525h1v2h-1zM489 523h1v2h-1zM490 522h1v1h-1zM491 522h1v1h-1zM492 521h1v1h-1zM493 521h1v1h-1zM494 520h1v1h-1zM495 519h1v2h-1zM496 518h1v1h-1zM497 516h1v2h-1zM498 515h1v1h-1zM499 515h1v1h-1zM500 515h1v2h-1zM501 516h1v1h-1zM502 516h1v1h-1zM503 517h1v2h-1zM504 519h1v2h-1zM505 521h1v2h-1zM506 522h1v1h-1zM507 523h1v1h-1zM508 523h1v1h-1zM509 524h1v1h-1zM510 524h1v1h-1zM511 523h1v1h-1zM512 522h1v1h-1zM513 521h1v1h-1zM514 520h1v1h-1zM515 519h1v1h-1zM516 518h1v2h-1zM517 518h1v1h-1zM518 518h1v1h-1zM519 517h1v1h-1zM520 517h1v1h-1zM521 517h1v1h-1zM522 517h1v1h-1zM523 517h1v1h-1zM524 516h1v1h-1zM525 516h1v1h-1zM526 516h1v1h-1zM527 516h1v1h-1zM528 517h1v2h-1zM529 518h1v1h-1zM530 519h1v1h-1zM531 519h1v1h-1zM532 519h1v1h-1zM533 519h1v1h-1zM534 519h1v1h-1zM535 519h1v1h-1zM536 518h1v1h-1zM537 518h1v1h-1zM538 518h1v1h-1zM539 517h1v1h-1zM540 517h1v1h-1zM541 516h1v1h-1zM542 516h1v1h-1zM543 516h1v1h-1zM544 516h1v1h-1zM545 516h1v1h-1zM546 516h1v1h-1zM547 516h1v1h-1zM548 515h1v2h-1zM549 515h1v1h-1zM550 515h1v1h-1zM551 515h1v1h-1zM552 515h1v1h-1zM553 515h1v1h-1zM554 515h1v1h-1zM555 514h1v1h-1zM556 514h1v1h-1zM557 513h1v1h-1zM558 513h1v1h-1zM559 513h1v1h-1zM560 513h1v1h-1zM561 513h1v1h-1zM562 512h1v1h-1zM563 512h1v1h-1zM564 512h1v1h-1zM565 512h1v1h-1zM566 512h1v1h-1zM567 513h1v1h-1zM568 514h1v2h-1zM569 516h1v1h-1zM570 517h1v1h-1zM571 517h1v1h-1zM572 518h1v1h-1zM573 519h1v1h-1zM574 520h1v1h-1zM575 520h1v1h-1zM576 521h1v1h-1zM577 522h1v1h-1zM578 522h1v1h-1zM579 523h1v1h-1zM580 523h1v2h-1zM581 524h1v1h-1zM582 525h1v1h-1zM583 524h1v1h-1zM584 523h1v2h-1zM585 522h1v1h-1zM586 522h1v1h-1zM587 522h1v1h-1zM588 523h1v1h-1zM589 524h1v1h-1zM590 524h1v1h-1zM591 524h1v1h-1zM592 523h1v1h-1zM593 522h1v1h-1zM594 522h1v1h-1zM595 522h1v1h-1zM596 522h1v1h-1zM597 523h1v1h-1zM598 523h1v1h-1zM599 522h1v1h-1zM600 521h1v2h-1zM601 520h1v1h-1zM602 520h1v1h-1zM603 520h1v1h-1zM604 521h1v1h-1zM605 522h1v1h-1zM606 522h1v1h-1zM607 521h1v1h-1zM608 520h1v2h-1zM609 520h1v1h-1zM610 519h1v1h-1zM611 518h1v1h-1zM612 517h1v2h-1zM613 517h1v1h-1zM614 516h1v1h-1zM615 516h1v1h-1zM616 514h1v2h-1zM617 513h1v1h-1zM618 512h1v1h-1zM619 512h1v1h-1zM620 511h1v1h-1zM621 510h1v1h-1zM622 510h1v1h-1zM623 510h1v1h-1zM624 510h1v1h-1zM625 511h1v1h-1zM626 511h1v1h-1zM627 510h1v1h-1zM628 510h1v1h-1zM629 509h1v1h-1zM630 509h1v1h-1zM631 510h1v1h-1zM632 510h1v2h-1zM633 512h1v1h-1zM634 513h1v1h-1zM635 514h1v2h-1zM636 515h1v1h-1zM637 516h1v2h-1zM638 518h1v1h-1zM639 517h1v1h-1zM640 516h1v2h-1zM641 516h1v1h-1zM642 515h1v1h-1zM643 515h1v1h-1zM644 515h1v2h-1zM645 516h1v1h-1zM646 516h1v1h-1zM647 515h1v1h-1zM648 514h1v2h-1zM649 514h1v1h-1zM650 514h1v1h-1zM651 513h1v1h-1zM652 512h1v1h-1zM653 511h1v1h-1zM654 511h1v1h-1zM655 511h1v1h-1zM656 511h1v1h-1zM657 511h1v1h-1zM658 512h1v1h-1zM659 511h1v1h-1zM660 511h1v1h-1zM661 511h1v1h-1zM662 510h1v1h-1zM663 511h1v1h-1zM664 511h1v2h-1zM665 512h1v1h-1zM666 512h1v1h-1zM667 511h1v2h-1zM668 510h1v1h-1zM669 508h1v2h-1zM670 508h1v1h-1zM671 507h1v1h-1zM672 506h1v2h-1zM673 506h1v1h-1zM674 506h1v1h-1zM675 506h1v1h-1zM676 507h1v2h-1zM677 509h1v1h-1zM678 510h1v1h-1zM679 510h1v1h-1zM680 510h1v1h-1zM681 510h1v1h-1zM682 510h1v1h-1zM683 510h1v1h-1zM684 509h1v2h-1zM685 509h1v1h-1zM686 509h1v1h-1zM687 509h1v1h-1zM688 509h1v1h-1zM689 509h1v1h-1zM690 509h1v1h-1zM691 509h1v1h-1zM692 508h1v1h-1zM693 508h1v1h-1zM694 508h1v2h-1zM695 510h1v4h-1zM696 513h1v3h-1zM697 516h1v4h-1zM698 520h1v2h-1zM699 521h1v1h-1zM700 520h1v1h-1zM701 519h1v1h-1zM702 519h1v1h-1zM703 519h1v1h-1zM704 519h1v2h-1zM705 520h1v1h-1zM706 520h1v1h-1zM707 520h1v1h-1zM708 520h1v1h-1zM709 521h1v1h-1zM710 521h1v1h-1zM711 520h1v1h-1zM712 519h1v2h-1zM713 518h1v1h-1zM714 518h1v1h-1zM715 518h1v1h-1zM716 519h1v1h-1zM717 520h1v1h-1zM718 520h1v1h-1zM719 520h1v1h-1zM720 521h1v1h-1zM721 522h1v1h-1zM722 522h1v1h-1zM723 522h1v1h-1zM724 521h1v1h-1zM725 521h1v1h-1zM726 520h1v1h-1zM727 520h1v1h-1zM728 519h1v1h-1zM729 518h1v1h-1zM730 518h1v1h-1zM731 517h1v1h-1zM732 516h1v2h-1zM733 516h1v1h-1zM734 515h1v1h-1zM735 515h1v1h-1zM736 515h1v1h-1zM737 515h1v1h-1zM738 514h1v2h-1zM739 513h1v1h-1zM740 511h1v2h-1zM741 510h1v1h-1zM742 508h1v2h-1zM743 509h1v2h-1zM744 511h1v1h-1zM745 512h1v2h-1zM746 514h1v1h-1zM747 515h1v4h-1zM748 519h1v3h-1zM749 522h1v4h-1zM750 526h1v2h-1zM751 528h1v1h-1zM752 529h1v3h-1zM753 532h1v1h-1zM754 533h1v2h-1zM755 533h1v1h-1zM756 532h1v2h-1zM757 532h1v1h-1zM758 531h1v1h-1zM759 531h1v1h-1zM760 532h1v1h-1zM761 532h1v1h-1zM762 532h1v1h-1zM763 533h1v1h-1zM764 533h1v1h-1zM765 533h1v1h-1zM766 534h1v1h-1zM767 534h1v1h-1zM768 534h1v2h-1zM769 535h1v1h-1zM770 536h1v1h-1zM771 536h1v1h-1zM772 536h1v2h-1zM773 537h1v1h-1zM774 538h1v1h-1zM775 538h1v1h-1zM776 538h1v1h-1zM777 539h1v1h-1zM778 539h1v1h-1zM779 539h1v1h-1zM780 539h1v1h-1zM781 539h1v1h-1zM782 538h1v1h-1zM783 538h1v1h-1zM784 536h1v2h-1zM785 536h1v1h-1zM786 535h1v1h-1zM787 535h1v1h-1zM788 535h1v1h-1zM789 535h1v1h-1zM790 535h1v1h-1zM791 534h1v1h-1zM792 533h1v1h-1zM793 532h1v1h-1zM794 531h1v1h-1zM795 529h1v2h-1zM796 528h1v1h-1zM797 526h1v2h-1zM798 525h1v1h-1zM799 525h1v1h-1zM800 525h1v2h-1zM801 526h1v1h-1zM802 526h1v1h-1zM803 526h1v1h-1zM804 527h1v1h-1zM805 527h1v1h-1zM806 528h1v1h-1zM807 527h1v1h-1zM808 527h1v1h-1zM809 526h1v1h-1zM810 526h1v1h-1zM811 526h1v1h-1zM812 526h1v1h-1zM813 526h1v1h-1zM814 526h1v1h-1zM815 525h1v1h-1zM816 524h1v2h-1zM817 524h1v1h-1zM818 523h1v1h-1zM819 521h1v2h-1zM820 519h1v2h-1zM821 518h1v2h-1zM822 517h1v1h-1zM823 517h1v1h-1zM824 516h1v1h-1zM825 516h1v1h-1zM826 516h1v1h-1zM827 515h1v1h-1zM828 514h1v1h-1zM829 513h1v1h-1zM830 513h1v1h-1zM831 514h1v1h-1zM832 514h1v2h-1zM833 515h1v1h-1zM834 516h1v1h-1zM835 516h1v1h-1zM836 516h1v1h-1zM837 516h1v1h-1zM838 516h1v1h-1zM839 516h1v1h-1zM840 517h1v2h-1zM841 518h1v1h-1zM842 519h1v1h-1zM843 520h1v1h-1zM844 520h1v2h-1zM845 521h1v1h-1zM846 522h1v1h-1zM847 520h1v2h-1zM848 519h1v1h-1zM849 518h1v2h-1zM850 517h1v1h-1zM851 516h1v1h-1zM852 516h1v1h-1zM853 515h1v1h-1zM854 515h1v1h-1zM855 515h1v1h-1zM856 516h1v1h-1zM857 516h1v1h-1zM858 517h1v1h-1zM859 517h1v1h-1zM860 517h1v1h-1zM861 517h1v1h-1zM862 517h1v1h-1zM863 517h1v1h-1zM864 517h1v1h-1zM865 517h1v1h-1zM866 517h1v1h-1zM867 515h1v2h-1zM868 514h1v1h-1zM869 513h1v2h-1zM870 512h1v1h-1zM871 511h1v1h-1zM872 510h1v2h-1zM873 510h1v1h-1zM874 509h1v1h-1zM875 509h1v1h-1zM876 508h1v1h-1zM877 508h1v1h-1zM878 508h1v1h-1zM879 507h1v1h-1zM880 507h1v1h-1zM881 506h1v1h-1zM882 506h1v1h-1zM883 506h1v1h-1zM884 507h1v1h-1zM885 507h1v1h-1zM886 508h1v1h-1zM887 508h1v1h-1zM888 508h1v1h-1zM889 509h1v1h-1zM890 509h1v1h-1zM891 510h1v2h-1zM892 512h1v1h-1zM893 513h1v2h-1zM894 515h1v1h-1zM895 515h1v1h-1zM896 514h1v1h-1zM897 514h1v1h-1zM898 514h1v1h-1zM899 514h1v1h-1zM900 515h1v2h-1zM901 516h1v1h-1zM902 517h1v1h-1zM903 516h1v1h-1zM904 515h1v2h-1zM905 515h1v1h-1zM906 514h1v1h-1zM907 514h1v1h-1zM908 514h1v1h-1zM909 514h1v1h-1zM910 514h1v1h-1zM911 515h1v1h-1zM912 516h1v2h-1zM913 518h1v1h-1zM914 518h1v1h-1zM915 519h1v1h-1zM916 519h1v2h-1zM917 520h1v1h-1zM918 521h1v1h-1zM919 521h1v1h-1zM920 520h1v1h-1zM921 520h1v1h-1zM922 520h1v1h-1zM923 520h1v1h-1zM924 520h1v1h-1zM925 520h1v1h-1zM926 520h1v1h-1zM927 521h1v1h-1zM928 522h1v2h-1zM929 524h1v1h-1zM930 525h1v1h-1zM931 525h1v1h-1zM932 525h1v1h-1zM933 525h1v1h-1zM934 525h1v1h-1zM935 525h1v1h-1zM936 525h1v2h-1zM937 526h1v1h-1zM938 526h1v1h-1zM939 526h1v1h-1zM940 525h1v2h-1zM941 525h1v1h-1zM942 525h1v1h-1zM943 525h1v1h-1zM944 526h1v1h-1zM945 527h1v1h-1zM946 527h1v2h-1zM947 525h1v2h-1zM948 523h1v2h-1zM949 521h1v2h-1zM950 520h1v1h-1zM951 519h1v1h-1zM952 518h1v2h-1zM953 518h1v1h-1zM954 518h1v1h-1zM955 518h1v1h-1zM956 518h1v2h-1zM957 519h1v1h-1zM958 520h1v1h-1zM959 520h1v1h-1zM960 519h1v1h-1zM961 519h1v1h-1zM962 518h1v1h-1zM963 518h1v1h-1zM964 517h1v1h-1zM965 516h1v1h-1zM966 516h1v1h-1zM967 515h1v1h-1zM968 514h1v1h-1zM969 513h1v1h-1zM970 512h1v1h-1zM971 512h1v1h-1zM972 511h1v1h-1zM973 510h1v1h-1zM974 510h1v1h-1zM975 510h1v1h-1zM976 510h1v1h-1zM977 510h1v1h-1zM978 510h1v1h-1zM979 510h1v1h-1zM980 510h1v1h-1zM981 511h1v1h-1zM982 511h1v1h-1zM983 512h1v1h-1zM984 512h1v2h-1zM985 513h1v1h-1zM986 514h1v1h-1zM987 514h1v1h-1zM988 513h1v2h-1zM989 513h1v1h-1zM990 513h1v1h-1zM991 513h1v1h-1zM992 513h1v2h-1zM993 514h1v1h-1zM994 514h1v1h-1zM995 514h1v1h-1zM996 513h1v2h-1zM997 513h1v1h-1zM998 513h1v1h-1zM999 513h1v1h-1zM1000 513h1v2h-1zM1001 514h1v1h-1zM1002 514h1v1h-1zM1003 514h1v1h-1zM1004 514h1v1h-1zM1005 514h1v1h-1zM1006 514h1v1h-1zM1007 515h1v1h-1zM1008 516h1v1h-1zM1009 517h1v1h-1zM1010 518h1v1h-1zM1011 517h1v1h-1zM1012 516h1v2h-1zM1013 516h1v1h-1zM1014 515h1v1h-1zM1015 516h1v1h-1zM1016 516h1v2h-1zM1017 517h1v1h-1zM1018 518h1v1h-1zM1019 517h1v1h-1zM1020 516h1v1h-1zM1021 515h1v1h-1zM1022 514h1v1h-1zM1023 514h1v1h-1zM1024 515h1v1h-1zM1025 516h1v1h-1zM1026 516h1v1h-1zM1027 517h1v1h-1zM1028 517h1v2h-1zM1029 518h1v1h-1zM1030 518h1v1h-1zM1031 519h1v1h-1zM1032 519h1v1h-1zM1033 519h1v1h-1zM1034 519h1v1h-1z"/>
<path fill="#000" d="M1 31h1305v1h-1305zM1 408h1305v1h-1305zM1 31h1v378h-1zM1305 31h1v378h-1z"/>
<path fill="#000" d="M1 410h1305v1h-1305zM1 479h1305v1h-1305zM1 410h1v70h-1zM1305 410h1v70h-1z"/>
<path fill="#000" d="M1 481h1305v1h-1305zM1 552h1305v1h-1305zM1 481h1v72h-1zM1305 481h1v72h-1z"/>
<rect x="1305" y="503" width="1" height="1" fill="#fff"/><rect x="1305" y="531" width="1" height="1" fill="#fff"/>
<rect x="1306" y="42" width="2" height="1" fill="#000"/>
<text x="1311" y="46" font-size="10" textLength="33" lengthAdjust="spacingAndGlyphs">6.98300</text>
<rect x="1306" y="75" width="2" height="1" fill="#000"/>
<text x="1311" y="79" font-size="10" textLength="33" lengthAdjust="spacingAndGlyphs">6.96820</text>
<rect x="1306" y="108" width="2" height="1" fill="#000"/>
<text x="1311" y="112" font-size="10" textLength="33" lengthAdjust="spacingAndGlyphs">6.95380</text>
<rect x="1306" y="141" width="2" height="1" fill="#000"/>
<text x="1311" y="145" font-size="10" textLength="33" lengthAdjust="spacingAndGlyphs">6.93900</text>
<rect x="1306" y="174" width="2" height="1" fill="#000"/>
<text x="1311" y="178" font-size="10" textLength="33" lengthAdjust="spacingAndGlyphs">6.92460</text>
<rect x="1306" y="207" width="2" height="1" fill="#000"/>
<text x="1311" y="211" font-size="10" textLength="33" lengthAdjust="spacingAndGlyphs">6.90980</text>
<rect x="1306" y="240" width="2" height="1" fill="#000"/>
<text x="1311" y="244" font-size="10" textLength="33" lengthAdjust="spacingAndGlyphs">6.89500</text>
<rect x="1306" y="273" width="2" height="1" fill="#000"/>
<text x="1311" y="277" font-size="10" textLength="33" lengthAdjust="spacingAndGlyphs">6.88060</text>
<rect x="1306" y="306" width="2" height="1" fill="#000"/>
<text x="1311" y="310" font-size="10" textLength="33" lengthAdjust="spacingAndGlyphs">6.86580</text>
<rect x="1306" y="339" width="2" height="1" fill="#000"/>
<text x="1311" y="343" font-size="10" textLength="33" lengthAdjust="spacingAndGlyphs">6.85140</text>
<rect x="1306" y="372" width="2" height="1" fill="#000"/>
<text x="1311" y="376" font-size="10" textLength="33" lengthAdjust="spacingAndGlyphs">6.83660</text>
<rect x="1306" y="405" width="2" height="1" fill="#000"/>
<text x="1311" y="409" font-size="10" textLength="33" lengthAdjust="spacingAndGlyphs">6.82220</text>
<rect x="1307" y="253" width="41" height="11" fill="#000"/>
<text x="1311" y="262" font-size="10" textLength="33" lengthAdjust="spacingAndGlyphs" fill="#fff">6.88714</text>
<rect x="1306" y="412" width="1" height="1" fill="#000"/><rect x="1306" y="432" width="1" height="1" fill="#000"/><rect x="1306" y="478" width="1" height="1" fill="#000"/>
<text x="1309" y="421" font-size="10" textLength="28" lengthAdjust="spacingAndGlyphs">0.0119</text>
<text x="1309" y="436" font-size="10" textLength="18" lengthAdjust="spacingAndGlyphs">0.00</text>
<text x="1309" y="476" font-size="10" textLength="41.7" lengthAdjust="spacingAndGlyphs">-0.027754</text>
<rect x="1348" y="465" width="1" height="14" fill="#e3e3e3"/><rect x="1349" y="465" width="1" height="14" fill="#fff"/>
<rect x="1306" y="483" width="1" height="1" fill="#000"/><rect x="1306" y="551" width="1" height="1" fill="#000"/>
<text x="1309" y="492" font-size="10" textLength="15" lengthAdjust="spacingAndGlyphs">100</text>
<text x="1308" y="507" font-size="10" textLength="10" lengthAdjust="spacingAndGlyphs">70</text>
<text x="1308" y="535" font-size="10" textLength="10" lengthAdjust="spacingAndGlyphs">30</text>
<text x="1309" y="549" font-size="10" textLength="5" lengthAdjust="spacingAndGlyphs">0</text>
<path d="M5 42 L8.5 38 L12 42 Z" fill="#000" shape-rendering="auto"/>
<text x="17.6" y="43" font-size="10" textLength="55.5" lengthAdjust="spacingAndGlyphs">USDCNH,H4</text>
<text x="78.7" y="43" font-size="10" textLength="141" lengthAdjust="spacingAndGlyphs">6.88893 6.89157 6.88437 6.88714</text>
<text x="6.4" y="423" font-size="10" textLength="147.5" lengthAdjust="spacingAndGlyphs">MACD(12,26,9) 0.000523 0.001960</text>
<text x="6.4" y="494" font-size="10" textLength="67.5" lengthAdjust="spacingAndGlyphs">RSI(14) 46.7509</text>
<rect x="2" y="553" width="1" height="3" fill="#000"/>
<text x="1.5" y="565" font-size="10" textLength="50.3" lengthAdjust="spacingAndGlyphs">18 Oct 2018</text>
<rect x="66" y="553" width="1" height="3" fill="#000"/>
<text x="65.5" y="565" font-size="10" textLength="52.6" lengthAdjust="spacingAndGlyphs">23 Oct 00:00</text>
<rect x="130" y="553" width="1" height="3" fill="#000"/>
<text x="129.5" y="565" font-size="10" textLength="52.6" lengthAdjust="spacingAndGlyphs">25 Oct 16:00</text>
<rect x="194" y="553" width="1" height="3" fill="#000"/>
<text x="193.5" y="565" font-size="10" textLength="52.6" lengthAdjust="spacingAndGlyphs">30 Oct 12:00</text>
<rect x="258" y="553" width="1" height="3" fill="#000"/>
<text x="257.5" y="565" font-size="10" textLength="50.4" lengthAdjust="spacingAndGlyphs">2 Nov 04:00</text>
<rect x="322" y="553" width="1" height="3" fill="#000"/>
<text x="321.5" y="565" font-size="10" textLength="50.4" lengthAdjust="spacingAndGlyphs">7 Nov 00:00</text>
<rect x="386" y="553" width="1" height="3" fill="#000"/>
<text x="385.5" y="565" font-size="10" textLength="50.4" lengthAdjust="spacingAndGlyphs">9 Nov 16:00</text>
<rect x="450" y="553" width="1" height="3" fill="#000"/>
<text x="449.5" y="565" font-size="10" textLength="56.0" lengthAdjust="spacingAndGlyphs">14 Nov 12:00</text>
<rect x="514" y="553" width="1" height="3" fill="#000"/>
<text x="513.5" y="565" font-size="10" textLength="56.0" lengthAdjust="spacingAndGlyphs">19 Nov 04:00</text>
<rect x="578" y="553" width="1" height="3" fill="#000"/>
<text x="577.5" y="565" font-size="10" textLength="56.0" lengthAdjust="spacingAndGlyphs">21 Nov 20:00</text>
<rect x="642" y="553" width="1" height="3" fill="#000"/>
<text x="641.5" y="565" font-size="10" textLength="56.0" lengthAdjust="spacingAndGlyphs">26 Nov 16:00</text>
<rect x="706" y="553" width="1" height="3" fill="#000"/>
<text x="705.5" y="565" font-size="10" textLength="56.0" lengthAdjust="spacingAndGlyphs">29 Nov 08:00</text>
<rect x="770" y="553" width="1" height="3" fill="#000"/>
<text x="769.5" y="565" font-size="10" textLength="48.8" lengthAdjust="spacingAndGlyphs">4 Dec 04:00</text>
<rect x="834" y="553" width="1" height="3" fill="#000"/>
<text x="833.5" y="565" font-size="10" textLength="48.8" lengthAdjust="spacingAndGlyphs">6 Dec 20:00</text>
<rect x="898" y="553" width="1" height="3" fill="#000"/>
<text x="897.5" y="565" font-size="10" textLength="54.4" lengthAdjust="spacingAndGlyphs">11 Dec 12:00</text>
<rect x="962" y="553" width="1" height="3" fill="#000"/>
<text x="961.5" y="565" font-size="10" textLength="54.4" lengthAdjust="spacingAndGlyphs">14 Dec 04:00</text>
<rect x="1026" y="553" width="1" height="3" fill="#000"/>
<text x="1025.5" y="565" font-size="10" textLength="54.4" lengthAdjust="spacingAndGlyphs">19 Dec 00:00</text>
<rect x="0" y="575" width="1350" height="1" fill="#000"/>
</svg>
<svg class="abs" id="panel" style="left:3px;top:49px" width="223" height="68" viewBox="3 49 223 68" shape-rendering="crispEdges">
<defs>
<linearGradient id="pg" gradientUnits="userSpaceOnUse" x1="0" y1="51" x2="0" y2="115"><stop offset="0" stop-color="#5757fb"/><stop offset="0.3" stop-color="#3a3ae6"/><stop offset="0.6" stop-color="#1919d2"/><stop offset="1" stop-color="#0000a6"/></linearGradient>
<linearGradient id="bt1" x1="0" y1="0" x2="0" y2="1"><stop offset="0" stop-color="#f3f3f3"/><stop offset="1" stop-color="#e6e6e6"/></linearGradient>
<linearGradient id="bt2" x1="0" y1="0" x2="0" y2="1"><stop offset="0" stop-color="#dadada"/><stop offset="1" stop-color="#d0d0d0"/></linearGradient>
</defs>
<rect x="3" y="49" width="223" height="68" fill="#fff"/>
<path d="M5.5 51.5H56.5V75.5H113.5V114.5H5.5Z" fill="url(#pg)" stroke="#0808b2" stroke-width="1"/>
<path d="M172.5 51.5H223.5V114.5H116.5V75.5H172.5Z" fill="url(#pg)" stroke="#0808b2" stroke-width="1"/>
<rect x="6" y="114" width="107" height="1" fill="#0000a4"/><rect x="117" y="114" width="106" height="1" fill="#0000a4"/>
<rect x="9" y="74" width="44" height="1" fill="#1414c0"/><rect x="9" y="75" width="44" height="1" fill="#8888f6"/>
<rect x="176" y="74" width="44" height="1" fill="#1414c0"/><rect x="176" y="75" width="44" height="1" fill="#8888f6"/>
<rect x="59" y="51" width="111" height="22" fill="#abadb3"/><rect x="60" y="52" width="109" height="20" fill="#fff"/>
<rect x="60" y="52" width="20" height="20" fill="#fcfcfc"/><rect x="61" y="53" width="18" height="6" fill="url(#bt1)"/><rect x="61" y="59" width="18" height="12" fill="url(#bt2)"/><rect x="149" y="52" width="20" height="20" fill="#fcfcfc"/><rect x="150" y="53" width="18" height="6" fill="url(#bt1)"/><rect x="150" y="59" width="18" height="12" fill="url(#bt2)"/>
<rect x="80" y="52" width="1" height="20" fill="#abadb3"/><rect x="148" y="52" width="1" height="20" fill="#abadb3"/>
<g shape-rendering="auto">
<path d="M66.8 60H72.2L69.5 63.4Z" fill="#4a63c8"/>
<path d="M156.3 63.4H161.3L158.8 60.2Z" fill="#4a63c8"/>
<text x="17.6" y="67.3" font-size="12" fill="#fff" textLength="25.4" lengthAdjust="spacingAndGlyphs">SELL</text>
<text x="185.4" y="67.3" font-size="12" fill="#fff" textLength="23" lengthAdjust="spacingAndGlyphs">BUY</text>
<text x="121.2" y="65.6" font-size="11.2" fill="#000" textLength="23" lengthAdjust="spacingAndGlyphs">3.00</text>
<text x="25" y="106" font-size="12" font-weight="bold" fill="#fff" textLength="24" lengthAdjust="spacingAndGlyphs">6.88</text>
<text x="135" y="106" font-size="12" font-weight="bold" fill="#fff" textLength="24" lengthAdjust="spacingAndGlyphs">6.88</text>
<text x="52" y="106" font-size="34" fill="#fff" textLength="35" lengthAdjust="spacingAndGlyphs">71</text>
<text x="162.5" y="106" font-size="34" fill="#fff" textLength="35" lengthAdjust="spacingAndGlyphs">94</text>
<text x="92" y="89.6" font-size="11.5" font-weight="bold" fill="#fff">4</text>
<text x="203.5" y="89.6" font-size="11.5" font-weight="bold" fill="#fff">3</text>
</g>
</svg>
<div id="tabs" class="abs">
<div class="sep" style="left:95px"></div>
<div class="sep" style="left:187px"></div>
<div class="sep" style="left:275px"></div>
<div class="sep" style="left:543px"></div>
<div class="sep" style="left:635px"></div>
<div class="sep" style="left:751px"></div>
<div class="sep" style="left:827px"></div>
</div>
<div class="abs" style="left:367px;top:575px;width:92px;height:19px;background:#fff;border:1px solid #000;border-top:none;box-sizing:border-box"></div>
<svg class="abs" style="left:0;top:576px" width="900" height="20">
<text x="15.1" y="14" font-size="12.2" fill="#7b7b7b" textLength="67.8" lengthAdjust="spacingAndGlyphs">EURUSD,H4</text>
<text x="106.2" y="14" font-size="12.2" fill="#7b7b7b" textLength="69.4" lengthAdjust="spacingAndGlyphs">AUDUSD,H4</text>
<text x="197.3" y="14" font-size="12.2" fill="#7b7b7b" textLength="66.7" lengthAdjust="spacingAndGlyphs">USDCHF,H4</text>
<text x="286.7" y="14" font-size="12.2" fill="#7b7b7b" textLength="68.2" lengthAdjust="spacingAndGlyphs">USDCAD,H4</text>
<text x="377.3" y="14" font-size="12.2" fill="#000" textLength="70.5" lengthAdjust="spacingAndGlyphs">USDCNH,H4</text>
<text x="469.3" y="14" font-size="12.2" fill="#7b7b7b" textLength="61.8" lengthAdjust="spacingAndGlyphs">USDJPY,H1</text>
<text x="554.4" y="14" font-size="12.2" fill="#7b7b7b" textLength="68.3" lengthAdjust="spacingAndGlyphs">XAUUSD,H1</text>
<text x="646.7" y="14" font-size="12.2" fill="#7b7b7b" textLength="93.3" lengthAdjust="spacingAndGlyphs">GBPUSD,Weekly</text>
<text x="762.2" y="14" font-size="12.2" fill="#7b7b7b" textLength="53.4" lengthAdjust="spacingAndGlyphs">SP500,H1</text>
</svg>
<svg class="abs" style="left:1310px;top:578px" width="36" height="14"><path d="M11 3 V9.5 L7.8 6.2 Z" fill="#8a8a8a"/><path d="M27 3 V9.5 L30.2 6.2 Z" fill="#8a8a8a"/></svg>
<div class="abs" style="left:0;top:595px;width:1350px;height:7px;background:#f0f0f0"></div>
<div class="abs" style="left:0;top:595px;width:1348px;height:1px;background:#fff"></div>
<div class="abs" style="left:0;top:599px;width:1347px;height:1px;background:#9d9d9d"></div>
<div class="abs" style="left:0;top:600px;width:1348px;height:2px;background:#fff"></div>
<div class="abs" style="left:1348px;top:576px;width:1px;height:19px;background:#e6e6e6"></div>
</body></html>
